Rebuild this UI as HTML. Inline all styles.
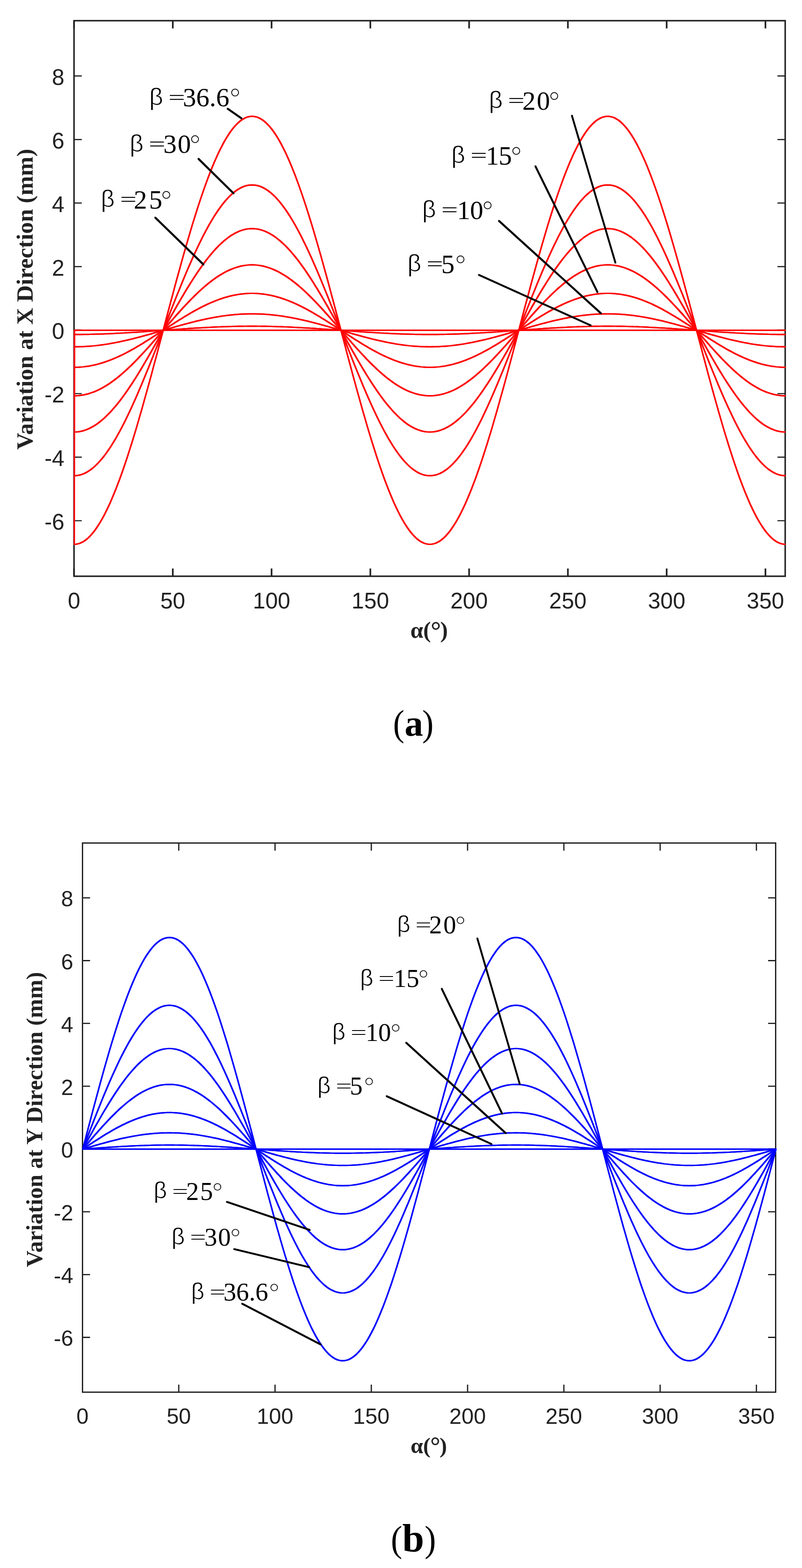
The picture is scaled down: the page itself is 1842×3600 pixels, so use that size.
<!DOCTYPE html>
<html><head><meta charset="utf-8"><title>Variation at X and Y Direction</title>
<style>html,body{margin:0;padding:0;background:#fff;}svg{display:block;}</style></head>
<body><svg width="1842" height="3600" viewBox="0 0 1842 3600">
<rect width="1842" height="3600" fill="#fff"/>
<path d="M170 1323V1305.2M170 47.5V65.3M396.86 1323V1305.2M396.86 47.5V65.3M623.72 1323V1305.2M623.72 47.5V65.3M850.58 1323V1305.2M850.58 47.5V65.3M1077.44 1323V1305.2M1077.44 47.5V65.3M1304.31 1323V1305.2M1304.31 47.5V65.3M1531.17 1323V1305.2M1531.17 47.5V65.3M1758.03 1323V1305.2M1758.03 47.5V65.3" stroke="#222" stroke-width="3.8" fill="none"/>
<path d="M170 1195.48H187.8M1803.4 1195.48H1785.6M170 1049.62H187.8M1803.4 1049.62H1785.6M170 903.76H187.8M1803.4 903.76H1785.6M170 757.9H187.8M1803.4 757.9H1785.6M170 612.04H187.8M1803.4 612.04H1785.6M170 466.18H187.8M1803.4 466.18H1785.6M170 320.32H187.8M1803.4 320.32H1785.6M170 174.46H187.8M1803.4 174.46H1785.6" stroke="#222" stroke-width="2.7" fill="none"/>
<rect x="170" y="47.5" width="1633.4" height="1275.5" fill="none" stroke="#222" stroke-width="3.5"/>
<g id="cx" stroke="#ff0000" stroke-width="1.2" fill="none" stroke-linejoin="round"><path d="M170.6 758.4L170.6 1249.7L175.1 1249.4L179.7 1248.5L184.2 1247.0L188.7 1244.9L193.3 1242.3L197.8 1239.0L202.4 1235.1L206.9 1230.7L211.4 1225.7L216.0 1220.1L220.5 1213.9L225.0 1207.2L229.6 1200.0L234.1 1192.2L238.7 1183.9L243.2 1175.1L247.7 1165.7L252.3 1155.9L256.8 1145.6L261.3 1134.8L265.9 1123.5L270.4 1111.8L275.0 1099.7L279.5 1087.2L284.0 1074.2L288.6 1060.9L293.1 1047.2L297.6 1033.1L302.2 1018.8L306.7 1004.1L311.3 989.1L315.8 973.8L320.3 958.2L324.9 942.5L329.4 926.4L333.9 910.2L338.5 893.8L343.0 877.3L347.6 860.6L352.1 843.7L356.6 826.8L361.2 809.8L365.7 792.7L370.2 775.5L374.8 758.4L379.3 741.3L383.8 724.1L388.4 707.0L392.9 690.0L397.5 673.1L402.0 656.2L406.5 639.5L411.1 623.0L415.6 606.6L420.1 590.4L424.7 574.3L429.2 558.6L433.8 543.0L438.3 527.7L442.8 512.7L447.4 498.0L451.9 483.7L456.4 469.6L461.0 455.9L465.5 442.6L470.1 429.6L474.6 417.1L479.1 405.0L483.7 393.3L488.2 382.0L492.7 371.2L497.3 360.9L501.8 351.1L506.4 341.7L510.9 332.9L515.4 324.6L520.0 316.8L524.5 309.6L529.0 302.9L533.6 296.7L538.1 291.1L542.7 286.1L547.2 281.7L551.7 277.8L556.3 274.5L560.8 271.9L565.3 269.8L569.9 268.3L574.4 267.4L579.0 267.1L583.5 267.4L588.0 268.3L592.6 269.8L597.1 271.9L601.6 274.5L606.2 277.8L610.7 281.7L615.2 286.1L619.8 291.1L624.3 296.7L628.9 302.9L633.4 309.6L637.9 316.8L642.5 324.6L647.0 332.9L651.5 341.7L656.1 351.1L660.6 360.9L665.2 371.2L669.7 382.0L674.2 393.3L678.8 405.0L683.3 417.1L687.8 429.6L692.4 442.6L696.9 455.9L701.5 469.6L706.0 483.7L710.5 498.0L715.1 512.7L719.6 527.7L724.1 543.0L728.7 558.6L733.2 574.3L737.8 590.4L742.3 606.6L746.8 623.0L751.4 639.5L755.9 656.2L760.4 673.1L765.0 690.0L769.5 707.0L774.1 724.1L778.6 741.3L783.1 758.4L787.7 775.5L792.2 792.7L796.7 809.8L801.3 826.8L805.8 843.7L810.3 860.6L814.9 877.3L819.4 893.8L824.0 910.2L828.5 926.4L833.0 942.5L837.6 958.2L842.1 973.8L846.6 989.1L851.2 1004.1L855.7 1018.8L860.3 1033.1L864.8 1047.2L869.3 1060.9L873.9 1074.2L878.4 1087.2L882.9 1099.7L887.5 1111.8L892.0 1123.5L896.6 1134.8L901.1 1145.6L905.6 1155.9L910.2 1165.7L914.7 1175.1L919.2 1183.9L923.8 1192.2L928.3 1200.0L932.9 1207.2L937.4 1213.9L941.9 1220.1L946.5 1225.7L951.0 1230.7L955.5 1235.1L960.1 1239.0L964.6 1242.3L969.2 1244.9L973.7 1247.0L978.2 1248.5L982.8 1249.4L987.3 1249.7L991.8 1249.4L996.4 1248.5L1000.9 1247.0L1005.4 1244.9L1010.0 1242.3L1014.5 1239.0L1019.1 1235.1L1023.6 1230.7L1028.1 1225.7L1032.7 1220.1L1037.2 1213.9L1041.7 1207.2L1046.3 1200.0L1050.8 1192.2L1055.4 1183.9L1059.9 1175.1L1064.4 1165.7L1069.0 1155.9L1073.5 1145.6L1078.0 1134.8L1082.6 1123.5L1087.1 1111.8L1091.7 1099.7L1096.2 1087.2L1100.7 1074.2L1105.3 1060.9L1109.8 1047.2L1114.3 1033.1L1118.9 1018.8L1123.4 1004.1L1128.0 989.1L1132.5 973.8L1137.0 958.2L1141.6 942.5L1146.1 926.4L1150.6 910.2L1155.2 893.8L1159.7 877.3L1164.3 860.6L1168.8 843.7L1173.3 826.8L1177.9 809.8L1182.4 792.7L1186.9 775.5L1191.5 758.4L1196.0 741.3L1200.5 724.1L1205.1 707.0L1209.6 690.0L1214.2 673.1L1218.7 656.2L1223.2 639.5L1227.8 623.0L1232.3 606.6L1236.8 590.4L1241.4 574.3L1245.9 558.6L1250.5 543.0L1255.0 527.7L1259.5 512.7L1264.1 498.0L1268.6 483.7L1273.1 469.6L1277.7 455.9L1282.2 442.6L1286.8 429.6L1291.3 417.1L1295.8 405.0L1300.4 393.3L1304.9 382.0L1309.4 371.2L1314.0 360.9L1318.5 351.1L1323.1 341.7L1327.6 332.9L1332.1 324.6L1336.7 316.8L1341.2 309.6L1345.7 302.9L1350.3 296.7L1354.8 291.1L1359.4 286.1L1363.9 281.7L1368.4 277.8L1373.0 274.5L1377.5 271.9L1382.0 269.8L1386.6 268.3L1391.1 267.4L1395.6 267.1L1400.2 267.4L1404.7 268.3L1409.3 269.8L1413.8 271.9L1418.3 274.5L1422.9 277.8L1427.4 281.7L1431.9 286.1L1436.5 291.1L1441.0 296.7L1445.6 302.9L1450.1 309.6L1454.6 316.8L1459.2 324.6L1463.7 332.9L1468.2 341.7L1472.8 351.1L1477.3 360.9L1481.9 371.2L1486.4 382.0L1490.9 393.3L1495.5 405.0L1500.0 417.1L1504.5 429.6L1509.1 442.6L1513.6 455.9L1518.2 469.6L1522.7 483.7L1527.2 498.0L1531.8 512.7L1536.3 527.7L1540.8 543.0L1545.4 558.6L1549.9 574.3L1554.5 590.4L1559.0 606.6L1563.5 623.0L1568.1 639.5L1572.6 656.2L1577.1 673.1L1581.7 690.0L1586.2 707.0L1590.8 724.1L1595.3 741.3L1599.8 758.4L1604.4 775.5L1608.9 792.7L1613.4 809.8L1618.0 826.8L1622.5 843.7L1627.0 860.6L1631.6 877.3L1636.1 893.8L1640.7 910.2L1645.2 926.4L1649.7 942.5L1654.3 958.2L1658.8 973.8L1663.3 989.1L1667.9 1004.1L1672.4 1018.8L1677.0 1033.1L1681.5 1047.2L1686.0 1060.9L1690.6 1074.2L1695.1 1087.2L1699.6 1099.7L1704.2 1111.8L1708.7 1123.5L1713.3 1134.8L1717.8 1145.6L1722.3 1155.9L1726.9 1165.7L1731.4 1175.1L1735.9 1183.9L1740.5 1192.2L1745.0 1200.0L1749.6 1207.2L1754.1 1213.9L1758.6 1220.1L1763.2 1225.7L1767.7 1230.7L1772.2 1235.1L1776.8 1239.0L1781.3 1242.3L1785.9 1244.9L1790.4 1247.0L1794.9 1248.5L1799.5 1249.4L1804.0 1249.7"/><path d="M170.6 758.4L170.6 1092.2L175.1 1092.0L179.7 1091.4L184.2 1090.4L188.7 1089.0L193.3 1087.2L197.8 1084.9L202.4 1082.3L206.9 1079.3L211.4 1075.9L216.0 1072.1L220.5 1067.9L225.0 1063.4L229.6 1058.4L234.1 1053.2L238.7 1047.5L243.2 1041.5L247.7 1035.2L252.3 1028.5L256.8 1021.5L261.3 1014.1L265.9 1006.5L270.4 998.5L275.0 990.3L279.5 981.8L284.0 973.0L288.6 963.9L293.1 954.6L297.6 945.1L302.2 935.3L306.7 925.3L311.3 915.1L315.8 904.7L320.3 894.2L324.9 883.5L329.4 872.6L333.9 861.6L338.5 850.4L343.0 839.2L347.6 827.8L352.1 816.4L356.6 804.9L361.2 793.3L365.7 781.7L370.2 770.1L374.8 758.4L379.3 746.7L383.8 735.1L388.4 723.5L392.9 711.9L397.5 700.4L402.0 689.0L406.5 677.6L411.1 666.4L415.6 655.2L420.1 644.2L424.7 633.3L429.2 622.6L433.8 612.1L438.3 601.7L442.8 591.5L447.4 581.5L451.9 571.7L456.4 562.2L461.0 552.9L465.5 543.8L470.1 535.0L474.6 526.5L479.1 518.3L483.7 510.3L488.2 502.7L492.7 495.3L497.3 488.3L501.8 481.6L506.4 475.3L510.9 469.3L515.4 463.6L520.0 458.4L524.5 453.4L529.0 448.9L533.6 444.7L538.1 440.9L542.7 437.5L547.2 434.5L551.7 431.9L556.3 429.6L560.8 427.8L565.3 426.4L569.9 425.4L574.4 424.8L579.0 424.6L583.5 424.8L588.0 425.4L592.6 426.4L597.1 427.8L601.6 429.6L606.2 431.9L610.7 434.5L615.2 437.5L619.8 440.9L624.3 444.7L628.9 448.9L633.4 453.4L637.9 458.4L642.5 463.6L647.0 469.3L651.5 475.3L656.1 481.6L660.6 488.3L665.2 495.3L669.7 502.7L674.2 510.3L678.8 518.3L683.3 526.5L687.8 535.0L692.4 543.8L696.9 552.9L701.5 562.2L706.0 571.7L710.5 581.5L715.1 591.5L719.6 601.7L724.1 612.1L728.7 622.6L733.2 633.3L737.8 644.2L742.3 655.2L746.8 666.4L751.4 677.6L755.9 689.0L760.4 700.4L765.0 711.9L769.5 723.5L774.1 735.1L778.6 746.7L783.1 758.4L787.7 770.1L792.2 781.7L796.7 793.3L801.3 804.9L805.8 816.4L810.3 827.8L814.9 839.2L819.4 850.4L824.0 861.6L828.5 872.6L833.0 883.5L837.6 894.2L842.1 904.7L846.6 915.1L851.2 925.3L855.7 935.3L860.3 945.1L864.8 954.6L869.3 963.9L873.9 973.0L878.4 981.8L882.9 990.3L887.5 998.5L892.0 1006.5L896.6 1014.1L901.1 1021.5L905.6 1028.5L910.2 1035.2L914.7 1041.5L919.2 1047.5L923.8 1053.2L928.3 1058.4L932.9 1063.4L937.4 1067.9L941.9 1072.1L946.5 1075.9L951.0 1079.3L955.5 1082.3L960.1 1084.9L964.6 1087.2L969.2 1089.0L973.7 1090.4L978.2 1091.4L982.8 1092.0L987.3 1092.2L991.8 1092.0L996.4 1091.4L1000.9 1090.4L1005.4 1089.0L1010.0 1087.2L1014.5 1084.9L1019.1 1082.3L1023.6 1079.3L1028.1 1075.9L1032.7 1072.1L1037.2 1067.9L1041.7 1063.4L1046.3 1058.4L1050.8 1053.2L1055.4 1047.5L1059.9 1041.5L1064.4 1035.2L1069.0 1028.5L1073.5 1021.5L1078.0 1014.1L1082.6 1006.5L1087.1 998.5L1091.7 990.3L1096.2 981.8L1100.7 973.0L1105.3 963.9L1109.8 954.6L1114.3 945.1L1118.9 935.3L1123.4 925.3L1128.0 915.1L1132.5 904.7L1137.0 894.2L1141.6 883.5L1146.1 872.6L1150.6 861.6L1155.2 850.4L1159.7 839.2L1164.3 827.8L1168.8 816.4L1173.3 804.9L1177.9 793.3L1182.4 781.7L1186.9 770.1L1191.5 758.4L1196.0 746.7L1200.5 735.1L1205.1 723.5L1209.6 711.9L1214.2 700.4L1218.7 689.0L1223.2 677.6L1227.8 666.4L1232.3 655.2L1236.8 644.2L1241.4 633.3L1245.9 622.6L1250.5 612.1L1255.0 601.7L1259.5 591.5L1264.1 581.5L1268.6 571.7L1273.1 562.2L1277.7 552.9L1282.2 543.8L1286.8 535.0L1291.3 526.5L1295.8 518.3L1300.4 510.3L1304.9 502.7L1309.4 495.3L1314.0 488.3L1318.5 481.6L1323.1 475.3L1327.6 469.3L1332.1 463.6L1336.7 458.4L1341.2 453.4L1345.7 448.9L1350.3 444.7L1354.8 440.9L1359.4 437.5L1363.9 434.5L1368.4 431.9L1373.0 429.6L1377.5 427.8L1382.0 426.4L1386.6 425.4L1391.1 424.8L1395.6 424.6L1400.2 424.8L1404.7 425.4L1409.3 426.4L1413.8 427.8L1418.3 429.6L1422.9 431.9L1427.4 434.5L1431.9 437.5L1436.5 440.9L1441.0 444.7L1445.6 448.9L1450.1 453.4L1454.6 458.4L1459.2 463.6L1463.7 469.3L1468.2 475.3L1472.8 481.6L1477.3 488.3L1481.9 495.3L1486.4 502.7L1490.9 510.3L1495.5 518.3L1500.0 526.5L1504.5 535.0L1509.1 543.8L1513.6 552.9L1518.2 562.2L1522.7 571.7L1527.2 581.5L1531.8 591.5L1536.3 601.7L1540.8 612.1L1545.4 622.6L1549.9 633.3L1554.5 644.2L1559.0 655.2L1563.5 666.4L1568.1 677.6L1572.6 689.0L1577.1 700.4L1581.7 711.9L1586.2 723.5L1590.8 735.1L1595.3 746.7L1599.8 758.4L1604.4 770.1L1608.9 781.7L1613.4 793.3L1618.0 804.9L1622.5 816.4L1627.0 827.8L1631.6 839.2L1636.1 850.4L1640.7 861.6L1645.2 872.6L1649.7 883.5L1654.3 894.2L1658.8 904.7L1663.3 915.1L1667.9 925.3L1672.4 935.3L1677.0 945.1L1681.5 954.6L1686.0 963.9L1690.6 973.0L1695.1 981.8L1699.6 990.3L1704.2 998.5L1708.7 1006.5L1713.3 1014.1L1717.8 1021.5L1722.3 1028.5L1726.9 1035.2L1731.4 1041.5L1735.9 1047.5L1740.5 1053.2L1745.0 1058.4L1749.6 1063.4L1754.1 1067.9L1758.6 1072.1L1763.2 1075.9L1767.7 1079.3L1772.2 1082.3L1776.8 1084.9L1781.3 1087.2L1785.9 1089.0L1790.4 1090.4L1794.9 1091.4L1799.5 1092.0L1804.0 1092.2"/><path d="M170.6 758.4L170.6 991.9L175.1 991.7L179.7 991.3L184.2 990.6L188.7 989.6L193.3 988.3L197.8 986.8L202.4 984.9L206.9 982.8L211.4 980.4L216.0 977.8L220.5 974.9L225.0 971.7L229.6 968.2L234.1 964.5L238.7 960.6L243.2 956.4L247.7 951.9L252.3 947.3L256.8 942.4L261.3 937.2L265.9 931.9L270.4 926.3L275.0 920.6L279.5 914.6L284.0 908.5L288.6 902.1L293.1 895.6L297.6 888.9L302.2 882.1L306.7 875.1L311.3 868.0L315.8 860.7L320.3 853.4L324.9 845.9L329.4 838.2L333.9 830.5L338.5 822.7L343.0 814.9L347.6 806.9L352.1 798.9L356.6 790.9L361.2 782.8L365.7 774.7L370.2 766.5L374.8 758.4L379.3 750.3L383.8 742.1L388.4 734.0L392.9 725.9L397.5 717.9L402.0 709.9L406.5 701.9L411.1 694.1L415.6 686.3L420.1 678.6L424.7 670.9L429.2 663.4L433.8 656.1L438.3 648.8L442.8 641.7L447.4 634.7L451.9 627.9L456.4 621.2L461.0 614.7L465.5 608.3L470.1 602.2L474.6 596.2L479.1 590.5L483.7 584.9L488.2 579.6L492.7 574.4L497.3 569.5L501.8 564.9L506.4 560.4L510.9 556.2L515.4 552.3L520.0 548.6L524.5 545.1L529.0 541.9L533.6 539.0L538.1 536.4L542.7 534.0L547.2 531.9L551.7 530.0L556.3 528.5L560.8 527.2L565.3 526.2L569.9 525.5L574.4 525.1L579.0 524.9L583.5 525.1L588.0 525.5L592.6 526.2L597.1 527.2L601.6 528.5L606.2 530.0L610.7 531.9L615.2 534.0L619.8 536.4L624.3 539.0L628.9 541.9L633.4 545.1L637.9 548.6L642.5 552.3L647.0 556.2L651.5 560.4L656.1 564.9L660.6 569.5L665.2 574.4L669.7 579.6L674.2 584.9L678.8 590.5L683.3 596.2L687.8 602.2L692.4 608.3L696.9 614.7L701.5 621.2L706.0 627.9L710.5 634.7L715.1 641.7L719.6 648.8L724.1 656.1L728.7 663.4L733.2 670.9L737.8 678.6L742.3 686.3L746.8 694.1L751.4 701.9L755.9 709.9L760.4 717.9L765.0 725.9L769.5 734.0L774.1 742.1L778.6 750.3L783.1 758.4L787.7 766.5L792.2 774.7L796.7 782.8L801.3 790.9L805.8 798.9L810.3 806.9L814.9 814.9L819.4 822.7L824.0 830.5L828.5 838.2L833.0 845.9L837.6 853.4L842.1 860.7L846.6 868.0L851.2 875.1L855.7 882.1L860.3 888.9L864.8 895.6L869.3 902.1L873.9 908.5L878.4 914.6L882.9 920.6L887.5 926.3L892.0 931.9L896.6 937.2L901.1 942.4L905.6 947.3L910.2 951.9L914.7 956.4L919.2 960.6L923.8 964.5L928.3 968.2L932.9 971.7L937.4 974.9L941.9 977.8L946.5 980.4L951.0 982.8L955.5 984.9L960.1 986.8L964.6 988.3L969.2 989.6L973.7 990.6L978.2 991.3L982.8 991.7L987.3 991.9L991.8 991.7L996.4 991.3L1000.9 990.6L1005.4 989.6L1010.0 988.3L1014.5 986.8L1019.1 984.9L1023.6 982.8L1028.1 980.4L1032.7 977.8L1037.2 974.9L1041.7 971.7L1046.3 968.2L1050.8 964.5L1055.4 960.6L1059.9 956.4L1064.4 951.9L1069.0 947.3L1073.5 942.4L1078.0 937.2L1082.6 931.9L1087.1 926.3L1091.7 920.6L1096.2 914.6L1100.7 908.5L1105.3 902.1L1109.8 895.6L1114.3 888.9L1118.9 882.1L1123.4 875.1L1128.0 868.0L1132.5 860.7L1137.0 853.4L1141.6 845.9L1146.1 838.2L1150.6 830.5L1155.2 822.7L1159.7 814.9L1164.3 806.9L1168.8 798.9L1173.3 790.9L1177.9 782.8L1182.4 774.7L1186.9 766.5L1191.5 758.4L1196.0 750.3L1200.5 742.1L1205.1 734.0L1209.6 725.9L1214.2 717.9L1218.7 709.9L1223.2 701.9L1227.8 694.1L1232.3 686.3L1236.8 678.6L1241.4 670.9L1245.9 663.4L1250.5 656.1L1255.0 648.8L1259.5 641.7L1264.1 634.7L1268.6 627.9L1273.1 621.2L1277.7 614.7L1282.2 608.3L1286.8 602.2L1291.3 596.2L1295.8 590.5L1300.4 584.9L1304.9 579.6L1309.4 574.4L1314.0 569.5L1318.5 564.9L1323.1 560.4L1327.6 556.2L1332.1 552.3L1336.7 548.6L1341.2 545.1L1345.7 541.9L1350.3 539.0L1354.8 536.4L1359.4 534.0L1363.9 531.9L1368.4 530.0L1373.0 528.5L1377.5 527.2L1382.0 526.2L1386.6 525.5L1391.1 525.1L1395.6 524.9L1400.2 525.1L1404.7 525.5L1409.3 526.2L1413.8 527.2L1418.3 528.5L1422.9 530.0L1427.4 531.9L1431.9 534.0L1436.5 536.4L1441.0 539.0L1445.6 541.9L1450.1 545.1L1454.6 548.6L1459.2 552.3L1463.7 556.2L1468.2 560.4L1472.8 564.9L1477.3 569.5L1481.9 574.4L1486.4 579.6L1490.9 584.9L1495.5 590.5L1500.0 596.2L1504.5 602.2L1509.1 608.3L1513.6 614.7L1518.2 621.2L1522.7 627.9L1527.2 634.7L1531.8 641.7L1536.3 648.8L1540.8 656.1L1545.4 663.4L1549.9 670.9L1554.5 678.6L1559.0 686.3L1563.5 694.1L1568.1 701.9L1572.6 709.9L1577.1 717.9L1581.7 725.9L1586.2 734.0L1590.8 742.1L1595.3 750.3L1599.8 758.4L1604.4 766.5L1608.9 774.7L1613.4 782.8L1618.0 790.9L1622.5 798.9L1627.0 806.9L1631.6 814.9L1636.1 822.7L1640.7 830.5L1645.2 838.2L1649.7 845.9L1654.3 853.4L1658.8 860.7L1663.3 868.0L1667.9 875.1L1672.4 882.1L1677.0 888.9L1681.5 895.6L1686.0 902.1L1690.6 908.5L1695.1 914.6L1699.6 920.6L1704.2 926.3L1708.7 931.9L1713.3 937.2L1717.8 942.4L1722.3 947.3L1726.9 951.9L1731.4 956.4L1735.9 960.6L1740.5 964.5L1745.0 968.2L1749.6 971.7L1754.1 974.9L1758.6 977.8L1763.2 980.4L1767.7 982.8L1772.2 984.9L1776.8 986.8L1781.3 988.3L1785.9 989.6L1790.4 990.6L1794.9 991.3L1799.5 991.7L1804.0 991.9"/><path d="M170.6 758.4L170.6 908.7L175.1 908.6L179.7 908.3L184.2 907.8L188.7 907.2L193.3 906.4L197.8 905.4L202.4 904.2L206.9 902.8L211.4 901.3L216.0 899.6L220.5 897.7L225.0 895.7L229.6 893.5L234.1 891.1L238.7 888.5L243.2 885.8L247.7 883.0L252.3 880.0L256.8 876.8L261.3 873.5L265.9 870.1L270.4 866.5L275.0 862.8L279.5 858.9L284.0 855.0L288.6 850.9L293.1 846.7L297.6 842.4L302.2 838.0L306.7 833.5L311.3 828.9L315.8 824.3L320.3 819.5L324.9 814.7L329.4 809.8L333.9 804.8L338.5 799.8L343.0 794.8L347.6 789.6L352.1 784.5L356.6 779.3L361.2 774.1L365.7 768.9L370.2 763.6L374.8 758.4L379.3 753.2L383.8 747.9L388.4 742.7L392.9 737.5L397.5 732.3L402.0 727.2L406.5 722.0L411.1 717.0L415.6 712.0L420.1 707.0L424.7 702.1L429.2 697.3L433.8 692.5L438.3 687.9L442.8 683.3L447.4 678.8L451.9 674.4L456.4 670.1L461.0 665.9L465.5 661.8L470.1 657.9L474.6 654.0L479.1 650.3L483.7 646.7L488.2 643.3L492.7 640.0L497.3 636.8L501.8 633.8L506.4 631.0L510.9 628.3L515.4 625.7L520.0 623.3L524.5 621.1L529.0 619.1L533.6 617.2L538.1 615.5L542.7 614.0L547.2 612.6L551.7 611.4L556.3 610.4L560.8 609.6L565.3 609.0L569.9 608.5L574.4 608.2L579.0 608.1L583.5 608.2L588.0 608.5L592.6 609.0L597.1 609.6L601.6 610.4L606.2 611.4L610.7 612.6L615.2 614.0L619.8 615.5L624.3 617.2L628.9 619.1L633.4 621.1L637.9 623.3L642.5 625.7L647.0 628.3L651.5 631.0L656.1 633.8L660.6 636.8L665.2 640.0L669.7 643.3L674.2 646.7L678.8 650.3L683.3 654.0L687.8 657.9L692.4 661.8L696.9 665.9L701.5 670.1L706.0 674.4L710.5 678.8L715.1 683.3L719.6 687.9L724.1 692.5L728.7 697.3L733.2 702.1L737.8 707.0L742.3 712.0L746.8 717.0L751.4 722.0L755.9 727.2L760.4 732.3L765.0 737.5L769.5 742.7L774.1 747.9L778.6 753.2L783.1 758.4L787.7 763.6L792.2 768.9L796.7 774.1L801.3 779.3L805.8 784.5L810.3 789.6L814.9 794.8L819.4 799.8L824.0 804.8L828.5 809.8L833.0 814.7L837.6 819.5L842.1 824.3L846.6 828.9L851.2 833.5L855.7 838.0L860.3 842.4L864.8 846.7L869.3 850.9L873.9 855.0L878.4 858.9L882.9 862.8L887.5 866.5L892.0 870.1L896.6 873.5L901.1 876.8L905.6 880.0L910.2 883.0L914.7 885.8L919.2 888.5L923.8 891.1L928.3 893.5L932.9 895.7L937.4 897.7L941.9 899.6L946.5 901.3L951.0 902.8L955.5 904.2L960.1 905.4L964.6 906.4L969.2 907.2L973.7 907.8L978.2 908.3L982.8 908.6L987.3 908.7L991.8 908.6L996.4 908.3L1000.9 907.8L1005.4 907.2L1010.0 906.4L1014.5 905.4L1019.1 904.2L1023.6 902.8L1028.1 901.3L1032.7 899.6L1037.2 897.7L1041.7 895.7L1046.3 893.5L1050.8 891.1L1055.4 888.5L1059.9 885.8L1064.4 883.0L1069.0 880.0L1073.5 876.8L1078.0 873.5L1082.6 870.1L1087.1 866.5L1091.7 862.8L1096.2 858.9L1100.7 855.0L1105.3 850.9L1109.8 846.7L1114.3 842.4L1118.9 838.0L1123.4 833.5L1128.0 828.9L1132.5 824.3L1137.0 819.5L1141.6 814.7L1146.1 809.8L1150.6 804.8L1155.2 799.8L1159.7 794.8L1164.3 789.6L1168.8 784.5L1173.3 779.3L1177.9 774.1L1182.4 768.9L1186.9 763.6L1191.5 758.4L1196.0 753.2L1200.5 747.9L1205.1 742.7L1209.6 737.5L1214.2 732.3L1218.7 727.2L1223.2 722.0L1227.8 717.0L1232.3 712.0L1236.8 707.0L1241.4 702.1L1245.9 697.3L1250.5 692.5L1255.0 687.9L1259.5 683.3L1264.1 678.8L1268.6 674.4L1273.1 670.1L1277.7 665.9L1282.2 661.8L1286.8 657.9L1291.3 654.0L1295.8 650.3L1300.4 646.7L1304.9 643.3L1309.4 640.0L1314.0 636.8L1318.5 633.8L1323.1 631.0L1327.6 628.3L1332.1 625.7L1336.7 623.3L1341.2 621.1L1345.7 619.1L1350.3 617.2L1354.8 615.5L1359.4 614.0L1363.9 612.6L1368.4 611.4L1373.0 610.4L1377.5 609.6L1382.0 609.0L1386.6 608.5L1391.1 608.2L1395.6 608.1L1400.2 608.2L1404.7 608.5L1409.3 609.0L1413.8 609.6L1418.3 610.4L1422.9 611.4L1427.4 612.6L1431.9 614.0L1436.5 615.5L1441.0 617.2L1445.6 619.1L1450.1 621.1L1454.6 623.3L1459.2 625.7L1463.7 628.3L1468.2 631.0L1472.8 633.8L1477.3 636.8L1481.9 640.0L1486.4 643.3L1490.9 646.7L1495.5 650.3L1500.0 654.0L1504.5 657.9L1509.1 661.8L1513.6 665.9L1518.2 670.1L1522.7 674.4L1527.2 678.8L1531.8 683.3L1536.3 687.9L1540.8 692.5L1545.4 697.3L1549.9 702.1L1554.5 707.0L1559.0 712.0L1563.5 717.0L1568.1 722.0L1572.6 727.2L1577.1 732.3L1581.7 737.5L1586.2 742.7L1590.8 747.9L1595.3 753.2L1599.8 758.4L1604.4 763.6L1608.9 768.9L1613.4 774.1L1618.0 779.3L1622.5 784.5L1627.0 789.6L1631.6 794.8L1636.1 799.8L1640.7 804.8L1645.2 809.8L1649.7 814.7L1654.3 819.5L1658.8 824.3L1663.3 828.9L1667.9 833.5L1672.4 838.0L1677.0 842.4L1681.5 846.7L1686.0 850.9L1690.6 855.0L1695.1 858.9L1699.6 862.8L1704.2 866.5L1708.7 870.1L1713.3 873.5L1717.8 876.8L1722.3 880.0L1726.9 883.0L1731.4 885.8L1735.9 888.5L1740.5 891.1L1745.0 893.5L1749.6 895.7L1754.1 897.7L1758.6 899.6L1763.2 901.3L1767.7 902.8L1772.2 904.2L1776.8 905.4L1781.3 906.4L1785.9 907.2L1790.4 907.8L1794.9 908.3L1799.5 908.6L1804.0 908.7"/><path d="M170.6 758.4L170.6 843.3L175.1 843.3L179.7 843.1L184.2 842.8L188.7 842.5L193.3 842.0L197.8 841.4L202.4 840.8L206.9 840.0L211.4 839.1L216.0 838.2L220.5 837.1L225.0 836.0L229.6 834.7L234.1 833.4L238.7 831.9L243.2 830.4L247.7 828.8L252.3 827.1L256.8 825.3L261.3 823.4L265.9 821.5L270.4 819.5L275.0 817.4L279.5 815.2L284.0 813.0L288.6 810.7L293.1 808.3L297.6 805.9L302.2 803.4L306.7 800.9L311.3 798.3L315.8 795.6L320.3 792.9L324.9 790.2L329.4 787.4L333.9 784.6L338.5 781.8L343.0 778.9L347.6 776.1L352.1 773.1L356.6 770.2L361.2 767.3L365.7 764.3L370.2 761.4L374.8 758.4L379.3 755.4L383.8 752.5L388.4 749.5L392.9 746.6L397.5 743.7L402.0 740.7L406.5 737.9L411.1 735.0L415.6 732.2L420.1 729.4L424.7 726.6L429.2 723.9L433.8 721.2L438.3 718.5L442.8 715.9L447.4 713.4L451.9 710.9L456.4 708.5L461.0 706.1L465.5 703.8L470.1 701.6L474.6 699.4L479.1 697.3L483.7 695.3L488.2 693.4L492.7 691.5L497.3 689.7L501.8 688.0L506.4 686.4L510.9 684.9L515.4 683.4L520.0 682.1L524.5 680.8L529.0 679.7L533.6 678.6L538.1 677.7L542.7 676.8L547.2 676.0L551.7 675.4L556.3 674.8L560.8 674.3L565.3 674.0L569.9 673.7L574.4 673.5L579.0 673.5L583.5 673.5L588.0 673.7L592.6 674.0L597.1 674.3L601.6 674.8L606.2 675.4L610.7 676.0L615.2 676.8L619.8 677.7L624.3 678.6L628.9 679.7L633.4 680.8L637.9 682.1L642.5 683.4L647.0 684.9L651.5 686.4L656.1 688.0L660.6 689.7L665.2 691.5L669.7 693.4L674.2 695.3L678.8 697.3L683.3 699.4L687.8 701.6L692.4 703.8L696.9 706.1L701.5 708.5L706.0 710.9L710.5 713.4L715.1 715.9L719.6 718.5L724.1 721.2L728.7 723.9L733.2 726.6L737.8 729.4L742.3 732.2L746.8 735.0L751.4 737.9L755.9 740.7L760.4 743.7L765.0 746.6L769.5 749.5L774.1 752.5L778.6 755.4L783.1 758.4L787.7 761.4L792.2 764.3L796.7 767.3L801.3 770.2L805.8 773.1L810.3 776.1L814.9 778.9L819.4 781.8L824.0 784.6L828.5 787.4L833.0 790.2L837.6 792.9L842.1 795.6L846.6 798.3L851.2 800.9L855.7 803.4L860.3 805.9L864.8 808.3L869.3 810.7L873.9 813.0L878.4 815.2L882.9 817.4L887.5 819.5L892.0 821.5L896.6 823.4L901.1 825.3L905.6 827.1L910.2 828.8L914.7 830.4L919.2 831.9L923.8 833.4L928.3 834.7L932.9 836.0L937.4 837.1L941.9 838.2L946.5 839.1L951.0 840.0L955.5 840.8L960.1 841.4L964.6 842.0L969.2 842.5L973.7 842.8L978.2 843.1L982.8 843.3L987.3 843.3L991.8 843.3L996.4 843.1L1000.9 842.8L1005.4 842.5L1010.0 842.0L1014.5 841.4L1019.1 840.8L1023.6 840.0L1028.1 839.1L1032.7 838.2L1037.2 837.1L1041.7 836.0L1046.3 834.7L1050.8 833.4L1055.4 831.9L1059.9 830.4L1064.4 828.8L1069.0 827.1L1073.5 825.3L1078.0 823.4L1082.6 821.5L1087.1 819.5L1091.7 817.4L1096.2 815.2L1100.7 813.0L1105.3 810.7L1109.8 808.3L1114.3 805.9L1118.9 803.4L1123.4 800.9L1128.0 798.3L1132.5 795.6L1137.0 792.9L1141.6 790.2L1146.1 787.4L1150.6 784.6L1155.2 781.8L1159.7 778.9L1164.3 776.1L1168.8 773.1L1173.3 770.2L1177.9 767.3L1182.4 764.3L1186.9 761.4L1191.5 758.4L1196.0 755.4L1200.5 752.5L1205.1 749.5L1209.6 746.6L1214.2 743.7L1218.7 740.7L1223.2 737.9L1227.8 735.0L1232.3 732.2L1236.8 729.4L1241.4 726.6L1245.9 723.9L1250.5 721.2L1255.0 718.5L1259.5 715.9L1264.1 713.4L1268.6 710.9L1273.1 708.5L1277.7 706.1L1282.2 703.8L1286.8 701.6L1291.3 699.4L1295.8 697.3L1300.4 695.3L1304.9 693.4L1309.4 691.5L1314.0 689.7L1318.5 688.0L1323.1 686.4L1327.6 684.9L1332.1 683.4L1336.7 682.1L1341.2 680.8L1345.7 679.7L1350.3 678.6L1354.8 677.7L1359.4 676.8L1363.9 676.0L1368.4 675.4L1373.0 674.8L1377.5 674.3L1382.0 674.0L1386.6 673.7L1391.1 673.5L1395.6 673.5L1400.2 673.5L1404.7 673.7L1409.3 674.0L1413.8 674.3L1418.3 674.8L1422.9 675.4L1427.4 676.0L1431.9 676.8L1436.5 677.7L1441.0 678.6L1445.6 679.7L1450.1 680.8L1454.6 682.1L1459.2 683.4L1463.7 684.9L1468.2 686.4L1472.8 688.0L1477.3 689.7L1481.9 691.5L1486.4 693.4L1490.9 695.3L1495.5 697.3L1500.0 699.4L1504.5 701.6L1509.1 703.8L1513.6 706.1L1518.2 708.5L1522.7 710.9L1527.2 713.4L1531.8 715.9L1536.3 718.5L1540.8 721.2L1545.4 723.9L1549.9 726.6L1554.5 729.4L1559.0 732.2L1563.5 735.0L1568.1 737.9L1572.6 740.7L1577.1 743.7L1581.7 746.6L1586.2 749.5L1590.8 752.5L1595.3 755.4L1599.8 758.4L1604.4 761.4L1608.9 764.3L1613.4 767.3L1618.0 770.2L1622.5 773.1L1627.0 776.1L1631.6 778.9L1636.1 781.8L1640.7 784.6L1645.2 787.4L1649.7 790.2L1654.3 792.9L1658.8 795.6L1663.3 798.3L1667.9 800.9L1672.4 803.4L1677.0 805.9L1681.5 808.3L1686.0 810.7L1690.6 813.0L1695.1 815.2L1699.6 817.4L1704.2 819.5L1708.7 821.5L1713.3 823.4L1717.8 825.3L1722.3 827.1L1726.9 828.8L1731.4 830.4L1735.9 831.9L1740.5 833.4L1745.0 834.7L1749.6 836.0L1754.1 837.1L1758.6 838.2L1763.2 839.1L1767.7 840.0L1772.2 840.8L1776.8 841.4L1781.3 842.0L1785.9 842.5L1790.4 842.8L1794.9 843.1L1799.5 843.3L1804.0 843.3"/><path d="M170.6 758.4L170.6 796.3L175.1 796.2L179.7 796.2L184.2 796.0L188.7 795.9L193.3 795.7L197.8 795.4L202.4 795.1L206.9 794.8L211.4 794.4L216.0 794.0L220.5 793.5L225.0 793.0L229.6 792.4L234.1 791.8L238.7 791.2L243.2 790.5L247.7 789.8L252.3 789.0L256.8 788.2L261.3 787.4L265.9 786.5L270.4 785.6L275.0 784.7L279.5 783.7L284.0 782.7L288.6 781.7L293.1 780.7L297.6 779.6L302.2 778.5L306.7 777.3L311.3 776.2L315.8 775.0L320.3 773.8L324.9 772.6L329.4 771.3L333.9 770.1L338.5 768.8L343.0 767.6L347.6 766.3L352.1 765.0L356.6 763.7L361.2 762.4L365.7 761.0L370.2 759.7L374.8 758.4L379.3 757.1L383.8 755.8L388.4 754.4L392.9 753.1L397.5 751.8L402.0 750.5L406.5 749.2L411.1 748.0L415.6 746.7L420.1 745.5L424.7 744.2L429.2 743.0L433.8 741.8L438.3 740.6L442.8 739.5L447.4 738.3L451.9 737.2L456.4 736.1L461.0 735.1L465.5 734.1L470.1 733.1L474.6 732.1L479.1 731.2L483.7 730.3L488.2 729.4L492.7 728.6L497.3 727.8L501.8 727.0L506.4 726.3L510.9 725.6L515.4 725.0L520.0 724.4L524.5 723.8L529.0 723.3L533.6 722.8L538.1 722.4L542.7 722.0L547.2 721.7L551.7 721.4L556.3 721.1L560.8 720.9L565.3 720.8L569.9 720.6L574.4 720.6L579.0 720.5L583.5 720.6L588.0 720.6L592.6 720.8L597.1 720.9L601.6 721.1L606.2 721.4L610.7 721.7L615.2 722.0L619.8 722.4L624.3 722.8L628.9 723.3L633.4 723.8L637.9 724.4L642.5 725.0L647.0 725.6L651.5 726.3L656.1 727.0L660.6 727.8L665.2 728.6L669.7 729.4L674.2 730.3L678.8 731.2L683.3 732.1L687.8 733.1L692.4 734.1L696.9 735.1L701.5 736.1L706.0 737.2L710.5 738.3L715.1 739.5L719.6 740.6L724.1 741.8L728.7 743.0L733.2 744.2L737.8 745.5L742.3 746.7L746.8 748.0L751.4 749.2L755.9 750.5L760.4 751.8L765.0 753.1L769.5 754.4L774.1 755.8L778.6 757.1L783.1 758.4L787.7 759.7L792.2 761.0L796.7 762.4L801.3 763.7L805.8 765.0L810.3 766.3L814.9 767.6L819.4 768.8L824.0 770.1L828.5 771.3L833.0 772.6L837.6 773.8L842.1 775.0L846.6 776.2L851.2 777.3L855.7 778.5L860.3 779.6L864.8 780.7L869.3 781.7L873.9 782.7L878.4 783.7L882.9 784.7L887.5 785.6L892.0 786.5L896.6 787.4L901.1 788.2L905.6 789.0L910.2 789.8L914.7 790.5L919.2 791.2L923.8 791.8L928.3 792.4L932.9 793.0L937.4 793.5L941.9 794.0L946.5 794.4L951.0 794.8L955.5 795.1L960.1 795.4L964.6 795.7L969.2 795.9L973.7 796.0L978.2 796.2L982.8 796.2L987.3 796.3L991.8 796.2L996.4 796.2L1000.9 796.0L1005.4 795.9L1010.0 795.7L1014.5 795.4L1019.1 795.1L1023.6 794.8L1028.1 794.4L1032.7 794.0L1037.2 793.5L1041.7 793.0L1046.3 792.4L1050.8 791.8L1055.4 791.2L1059.9 790.5L1064.4 789.8L1069.0 789.0L1073.5 788.2L1078.0 787.4L1082.6 786.5L1087.1 785.6L1091.7 784.7L1096.2 783.7L1100.7 782.7L1105.3 781.7L1109.8 780.7L1114.3 779.6L1118.9 778.5L1123.4 777.3L1128.0 776.2L1132.5 775.0L1137.0 773.8L1141.6 772.6L1146.1 771.3L1150.6 770.1L1155.2 768.8L1159.7 767.6L1164.3 766.3L1168.8 765.0L1173.3 763.7L1177.9 762.4L1182.4 761.0L1186.9 759.7L1191.5 758.4L1196.0 757.1L1200.5 755.8L1205.1 754.4L1209.6 753.1L1214.2 751.8L1218.7 750.5L1223.2 749.2L1227.8 748.0L1232.3 746.7L1236.8 745.5L1241.4 744.2L1245.9 743.0L1250.5 741.8L1255.0 740.6L1259.5 739.5L1264.1 738.3L1268.6 737.2L1273.1 736.1L1277.7 735.1L1282.2 734.1L1286.8 733.1L1291.3 732.1L1295.8 731.2L1300.4 730.3L1304.9 729.4L1309.4 728.6L1314.0 727.8L1318.5 727.0L1323.1 726.3L1327.6 725.6L1332.1 725.0L1336.7 724.4L1341.2 723.8L1345.7 723.3L1350.3 722.8L1354.8 722.4L1359.4 722.0L1363.9 721.7L1368.4 721.4L1373.0 721.1L1377.5 720.9L1382.0 720.8L1386.6 720.6L1391.1 720.6L1395.6 720.5L1400.2 720.6L1404.7 720.6L1409.3 720.8L1413.8 720.9L1418.3 721.1L1422.9 721.4L1427.4 721.7L1431.9 722.0L1436.5 722.4L1441.0 722.8L1445.6 723.3L1450.1 723.8L1454.6 724.4L1459.2 725.0L1463.7 725.6L1468.2 726.3L1472.8 727.0L1477.3 727.8L1481.9 728.6L1486.4 729.4L1490.9 730.3L1495.5 731.2L1500.0 732.1L1504.5 733.1L1509.1 734.1L1513.6 735.1L1518.2 736.1L1522.7 737.2L1527.2 738.3L1531.8 739.5L1536.3 740.6L1540.8 741.8L1545.4 743.0L1549.9 744.2L1554.5 745.5L1559.0 746.7L1563.5 748.0L1568.1 749.2L1572.6 750.5L1577.1 751.8L1581.7 753.1L1586.2 754.4L1590.8 755.8L1595.3 757.1L1599.8 758.4L1604.4 759.7L1608.9 761.0L1613.4 762.4L1618.0 763.7L1622.5 765.0L1627.0 766.3L1631.6 767.6L1636.1 768.8L1640.7 770.1L1645.2 771.3L1649.7 772.6L1654.3 773.8L1658.8 775.0L1663.3 776.2L1667.9 777.3L1672.4 778.5L1677.0 779.6L1681.5 780.7L1686.0 781.7L1690.6 782.7L1695.1 783.7L1699.6 784.7L1704.2 785.6L1708.7 786.5L1713.3 787.4L1717.8 788.2L1722.3 789.0L1726.9 789.8L1731.4 790.5L1735.9 791.2L1740.5 791.8L1745.0 792.4L1749.6 793.0L1754.1 793.5L1758.6 794.0L1763.2 794.4L1767.7 794.8L1772.2 795.1L1776.8 795.4L1781.3 795.7L1785.9 795.9L1790.4 796.0L1794.9 796.2L1799.5 796.2L1804.0 796.3"/><path d="M170.6 758.4L170.6 767.9L175.1 767.9L179.7 767.9L184.2 767.8L188.7 767.8L193.3 767.7L197.8 767.7L202.4 767.6L206.9 767.5L211.4 767.4L216.0 767.3L220.5 767.2L225.0 767.1L229.6 766.9L234.1 766.8L238.7 766.6L243.2 766.4L247.7 766.3L252.3 766.1L256.8 765.9L261.3 765.7L265.9 765.4L270.4 765.2L275.0 765.0L279.5 764.7L284.0 764.5L288.6 764.2L293.1 764.0L297.6 763.7L302.2 763.4L306.7 763.1L311.3 762.9L315.8 762.6L320.3 762.3L324.9 762.0L329.4 761.6L333.9 761.3L338.5 761.0L343.0 760.7L347.6 760.4L352.1 760.0L356.6 759.7L361.2 759.4L365.7 759.1L370.2 758.7L374.8 758.4L379.3 758.1L383.8 757.7L388.4 757.4L392.9 757.1L397.5 756.8L402.0 756.4L406.5 756.1L411.1 755.8L415.6 755.5L420.1 755.2L424.7 754.8L429.2 754.5L433.8 754.2L438.3 753.9L442.8 753.7L447.4 753.4L451.9 753.1L456.4 752.8L461.0 752.6L465.5 752.3L470.1 752.1L474.6 751.8L479.1 751.6L483.7 751.4L488.2 751.1L492.7 750.9L497.3 750.7L501.8 750.5L506.4 750.4L510.9 750.2L515.4 750.0L520.0 749.9L524.5 749.7L529.0 749.6L533.6 749.5L538.1 749.4L542.7 749.3L547.2 749.2L551.7 749.1L556.3 749.1L560.8 749.0L565.3 749.0L569.9 748.9L574.4 748.9L579.0 748.9L583.5 748.9L588.0 748.9L592.6 749.0L597.1 749.0L601.6 749.1L606.2 749.1L610.7 749.2L615.2 749.3L619.8 749.4L624.3 749.5L628.9 749.6L633.4 749.7L637.9 749.9L642.5 750.0L647.0 750.2L651.5 750.4L656.1 750.5L660.6 750.7L665.2 750.9L669.7 751.1L674.2 751.4L678.8 751.6L683.3 751.8L687.8 752.1L692.4 752.3L696.9 752.6L701.5 752.8L706.0 753.1L710.5 753.4L715.1 753.7L719.6 753.9L724.1 754.2L728.7 754.5L733.2 754.8L737.8 755.2L742.3 755.5L746.8 755.8L751.4 756.1L755.9 756.4L760.4 756.8L765.0 757.1L769.5 757.4L774.1 757.7L778.6 758.1L783.1 758.4L787.7 758.7L792.2 759.1L796.7 759.4L801.3 759.7L805.8 760.0L810.3 760.4L814.9 760.7L819.4 761.0L824.0 761.3L828.5 761.6L833.0 762.0L837.6 762.3L842.1 762.6L846.6 762.9L851.2 763.1L855.7 763.4L860.3 763.7L864.8 764.0L869.3 764.2L873.9 764.5L878.4 764.7L882.9 765.0L887.5 765.2L892.0 765.4L896.6 765.7L901.1 765.9L905.6 766.1L910.2 766.3L914.7 766.4L919.2 766.6L923.8 766.8L928.3 766.9L932.9 767.1L937.4 767.2L941.9 767.3L946.5 767.4L951.0 767.5L955.5 767.6L960.1 767.7L964.6 767.7L969.2 767.8L973.7 767.8L978.2 767.9L982.8 767.9L987.3 767.9L991.8 767.9L996.4 767.9L1000.9 767.8L1005.4 767.8L1010.0 767.7L1014.5 767.7L1019.1 767.6L1023.6 767.5L1028.1 767.4L1032.7 767.3L1037.2 767.2L1041.7 767.1L1046.3 766.9L1050.8 766.8L1055.4 766.6L1059.9 766.4L1064.4 766.3L1069.0 766.1L1073.5 765.9L1078.0 765.7L1082.6 765.4L1087.1 765.2L1091.7 765.0L1096.2 764.7L1100.7 764.5L1105.3 764.2L1109.8 764.0L1114.3 763.7L1118.9 763.4L1123.4 763.1L1128.0 762.9L1132.5 762.6L1137.0 762.3L1141.6 762.0L1146.1 761.6L1150.6 761.3L1155.2 761.0L1159.7 760.7L1164.3 760.4L1168.8 760.0L1173.3 759.7L1177.9 759.4L1182.4 759.1L1186.9 758.7L1191.5 758.4L1196.0 758.1L1200.5 757.7L1205.1 757.4L1209.6 757.1L1214.2 756.8L1218.7 756.4L1223.2 756.1L1227.8 755.8L1232.3 755.5L1236.8 755.2L1241.4 754.8L1245.9 754.5L1250.5 754.2L1255.0 753.9L1259.5 753.7L1264.1 753.4L1268.6 753.1L1273.1 752.8L1277.7 752.6L1282.2 752.3L1286.8 752.1L1291.3 751.8L1295.8 751.6L1300.4 751.4L1304.9 751.1L1309.4 750.9L1314.0 750.7L1318.5 750.5L1323.1 750.4L1327.6 750.2L1332.1 750.0L1336.7 749.9L1341.2 749.7L1345.7 749.6L1350.3 749.5L1354.8 749.4L1359.4 749.3L1363.9 749.2L1368.4 749.1L1373.0 749.1L1377.5 749.0L1382.0 749.0L1386.6 748.9L1391.1 748.9L1395.6 748.9L1400.2 748.9L1404.7 748.9L1409.3 749.0L1413.8 749.0L1418.3 749.1L1422.9 749.1L1427.4 749.2L1431.9 749.3L1436.5 749.4L1441.0 749.5L1445.6 749.6L1450.1 749.7L1454.6 749.9L1459.2 750.0L1463.7 750.2L1468.2 750.4L1472.8 750.5L1477.3 750.7L1481.9 750.9L1486.4 751.1L1490.9 751.4L1495.5 751.6L1500.0 751.8L1504.5 752.1L1509.1 752.3L1513.6 752.6L1518.2 752.8L1522.7 753.1L1527.2 753.4L1531.8 753.7L1536.3 753.9L1540.8 754.2L1545.4 754.5L1549.9 754.8L1554.5 755.2L1559.0 755.5L1563.5 755.8L1568.1 756.1L1572.6 756.4L1577.1 756.8L1581.7 757.1L1586.2 757.4L1590.8 757.7L1595.3 758.1L1599.8 758.4L1604.4 758.7L1608.9 759.1L1613.4 759.4L1618.0 759.7L1622.5 760.0L1627.0 760.4L1631.6 760.7L1636.1 761.0L1640.7 761.3L1645.2 761.6L1649.7 762.0L1654.3 762.3L1658.8 762.6L1663.3 762.9L1667.9 763.1L1672.4 763.4L1677.0 763.7L1681.5 764.0L1686.0 764.2L1690.6 764.5L1695.1 764.7L1699.6 765.0L1704.2 765.2L1708.7 765.4L1713.3 765.7L1717.8 765.9L1722.3 766.1L1726.9 766.3L1731.4 766.4L1735.9 766.6L1740.5 766.8L1745.0 766.9L1749.6 767.1L1754.1 767.2L1758.6 767.3L1763.2 767.4L1767.7 767.5L1772.2 767.6L1776.8 767.7L1781.3 767.7L1785.9 767.8L1790.4 767.8L1794.9 767.9L1799.5 767.9L1804.0 767.9"/><path d="M170.6 758.4L170.6 758.4L175.1 758.4L179.7 758.4L184.2 758.4L188.7 758.4L193.3 758.4L197.8 758.4L202.4 758.4L206.9 758.4L211.4 758.4L216.0 758.4L220.5 758.4L225.0 758.4L229.6 758.4L234.1 758.4L238.7 758.4L243.2 758.4L247.7 758.4L252.3 758.4L256.8 758.4L261.3 758.4L265.9 758.4L270.4 758.4L275.0 758.4L279.5 758.4L284.0 758.4L288.6 758.4L293.1 758.4L297.6 758.4L302.2 758.4L306.7 758.4L311.3 758.4L315.8 758.4L320.3 758.4L324.9 758.4L329.4 758.4L333.9 758.4L338.5 758.4L343.0 758.4L347.6 758.4L352.1 758.4L356.6 758.4L361.2 758.4L365.7 758.4L370.2 758.4L374.8 758.4L379.3 758.4L383.8 758.4L388.4 758.4L392.9 758.4L397.5 758.4L402.0 758.4L406.5 758.4L411.1 758.4L415.6 758.4L420.1 758.4L424.7 758.4L429.2 758.4L433.8 758.4L438.3 758.4L442.8 758.4L447.4 758.4L451.9 758.4L456.4 758.4L461.0 758.4L465.5 758.4L470.1 758.4L474.6 758.4L479.1 758.4L483.7 758.4L488.2 758.4L492.7 758.4L497.3 758.4L501.8 758.4L506.4 758.4L510.9 758.4L515.4 758.4L520.0 758.4L524.5 758.4L529.0 758.4L533.6 758.4L538.1 758.4L542.7 758.4L547.2 758.4L551.7 758.4L556.3 758.4L560.8 758.4L565.3 758.4L569.9 758.4L574.4 758.4L579.0 758.4L583.5 758.4L588.0 758.4L592.6 758.4L597.1 758.4L601.6 758.4L606.2 758.4L610.7 758.4L615.2 758.4L619.8 758.4L624.3 758.4L628.9 758.4L633.4 758.4L637.9 758.4L642.5 758.4L647.0 758.4L651.5 758.4L656.1 758.4L660.6 758.4L665.2 758.4L669.7 758.4L674.2 758.4L678.8 758.4L683.3 758.4L687.8 758.4L692.4 758.4L696.9 758.4L701.5 758.4L706.0 758.4L710.5 758.4L715.1 758.4L719.6 758.4L724.1 758.4L728.7 758.4L733.2 758.4L737.8 758.4L742.3 758.4L746.8 758.4L751.4 758.4L755.9 758.4L760.4 758.4L765.0 758.4L769.5 758.4L774.1 758.4L778.6 758.4L783.1 758.4L787.7 758.4L792.2 758.4L796.7 758.4L801.3 758.4L805.8 758.4L810.3 758.4L814.9 758.4L819.4 758.4L824.0 758.4L828.5 758.4L833.0 758.4L837.6 758.4L842.1 758.4L846.6 758.4L851.2 758.4L855.7 758.4L860.3 758.4L864.8 758.4L869.3 758.4L873.9 758.4L878.4 758.4L882.9 758.4L887.5 758.4L892.0 758.4L896.6 758.4L901.1 758.4L905.6 758.4L910.2 758.4L914.7 758.4L919.2 758.4L923.8 758.4L928.3 758.4L932.9 758.4L937.4 758.4L941.9 758.4L946.5 758.4L951.0 758.4L955.5 758.4L960.1 758.4L964.6 758.4L969.2 758.4L973.7 758.4L978.2 758.4L982.8 758.4L987.3 758.4L991.8 758.4L996.4 758.4L1000.9 758.4L1005.4 758.4L1010.0 758.4L1014.5 758.4L1019.1 758.4L1023.6 758.4L1028.1 758.4L1032.7 758.4L1037.2 758.4L1041.7 758.4L1046.3 758.4L1050.8 758.4L1055.4 758.4L1059.9 758.4L1064.4 758.4L1069.0 758.4L1073.5 758.4L1078.0 758.4L1082.6 758.4L1087.1 758.4L1091.7 758.4L1096.2 758.4L1100.7 758.4L1105.3 758.4L1109.8 758.4L1114.3 758.4L1118.9 758.4L1123.4 758.4L1128.0 758.4L1132.5 758.4L1137.0 758.4L1141.6 758.4L1146.1 758.4L1150.6 758.4L1155.2 758.4L1159.7 758.4L1164.3 758.4L1168.8 758.4L1173.3 758.4L1177.9 758.4L1182.4 758.4L1186.9 758.4L1191.5 758.4L1196.0 758.4L1200.5 758.4L1205.1 758.4L1209.6 758.4L1214.2 758.4L1218.7 758.4L1223.2 758.4L1227.8 758.4L1232.3 758.4L1236.8 758.4L1241.4 758.4L1245.9 758.4L1250.5 758.4L1255.0 758.4L1259.5 758.4L1264.1 758.4L1268.6 758.4L1273.1 758.4L1277.7 758.4L1282.2 758.4L1286.8 758.4L1291.3 758.4L1295.8 758.4L1300.4 758.4L1304.9 758.4L1309.4 758.4L1314.0 758.4L1318.5 758.4L1323.1 758.4L1327.6 758.4L1332.1 758.4L1336.7 758.4L1341.2 758.4L1345.7 758.4L1350.3 758.4L1354.8 758.4L1359.4 758.4L1363.9 758.4L1368.4 758.4L1373.0 758.4L1377.5 758.4L1382.0 758.4L1386.6 758.4L1391.1 758.4L1395.6 758.4L1400.2 758.4L1404.7 758.4L1409.3 758.4L1413.8 758.4L1418.3 758.4L1422.9 758.4L1427.4 758.4L1431.9 758.4L1436.5 758.4L1441.0 758.4L1445.6 758.4L1450.1 758.4L1454.6 758.4L1459.2 758.4L1463.7 758.4L1468.2 758.4L1472.8 758.4L1477.3 758.4L1481.9 758.4L1486.4 758.4L1490.9 758.4L1495.5 758.4L1500.0 758.4L1504.5 758.4L1509.1 758.4L1513.6 758.4L1518.2 758.4L1522.7 758.4L1527.2 758.4L1531.8 758.4L1536.3 758.4L1540.8 758.4L1545.4 758.4L1549.9 758.4L1554.5 758.4L1559.0 758.4L1563.5 758.4L1568.1 758.4L1572.6 758.4L1577.1 758.4L1581.7 758.4L1586.2 758.4L1590.8 758.4L1595.3 758.4L1599.8 758.4L1604.4 758.4L1608.9 758.4L1613.4 758.4L1618.0 758.4L1622.5 758.4L1627.0 758.4L1631.6 758.4L1636.1 758.4L1640.7 758.4L1645.2 758.4L1649.7 758.4L1654.3 758.4L1658.8 758.4L1663.3 758.4L1667.9 758.4L1672.4 758.4L1677.0 758.4L1681.5 758.4L1686.0 758.4L1690.6 758.4L1695.1 758.4L1699.6 758.4L1704.2 758.4L1708.7 758.4L1713.3 758.4L1717.8 758.4L1722.3 758.4L1726.9 758.4L1731.4 758.4L1735.9 758.4L1740.5 758.4L1745.0 758.4L1749.6 758.4L1754.1 758.4L1758.6 758.4L1763.2 758.4L1767.7 758.4L1772.2 758.4L1776.8 758.4L1781.3 758.4L1785.9 758.4L1790.4 758.4L1794.9 758.4L1799.5 758.4L1804.0 758.4"/></g>
<use href="#cx" x="-1" y="-1"/>
<use href="#cx" x="1" y="-1"/>
<use href="#cx" x="-1" y="1"/>
<use href="#cx" x="1" y="1"/>
<g font-family="Liberation Sans, Arial, sans-serif" font-size="51.5" fill="#222"><text x="170" y="1396.5" text-anchor="middle">0</text><text x="396.86" y="1396.5" text-anchor="middle">50</text><text x="623.72" y="1396.5" text-anchor="middle">100</text><text x="850.58" y="1396.5" text-anchor="middle">150</text><text x="1077.44" y="1396.5" text-anchor="middle">200</text><text x="1304.31" y="1396.5" text-anchor="middle">250</text><text x="1531.17" y="1396.5" text-anchor="middle">300</text><text x="1758.03" y="1396.5" text-anchor="middle">350</text><text x="148" y="1215.98" text-anchor="end">-6</text><text x="148" y="1070.12" text-anchor="end">-4</text><text x="148" y="924.26" text-anchor="end">-2</text><text x="148" y="778.4" text-anchor="end">0</text><text x="148" y="632.54" text-anchor="end">2</text><text x="148" y="486.68" text-anchor="end">4</text><text x="148" y="340.82" text-anchor="end">6</text><text x="148" y="194.96" text-anchor="end">8</text></g>
<text x="985.5" y="1464" text-anchor="middle" font-family="Liberation Serif, serif" font-weight="bold" font-size="53" fill="#222">α(<tspan font-size="60" dx="-0.8" dy="3.7">°</tspan><tspan dx="-2" dy="-3.7">)</tspan></text>
<text transform="translate(74.5 687) rotate(-90)" text-anchor="middle" font-family="Liberation Serif, serif" font-weight="bold" font-size="53.6" fill="#222">Variation at X Direction (mm)</text>
<g id="lx" stroke="#000" stroke-width="1.8"><line x1="522" y1="249" x2="555.4" y2="272.3"/><line x1="455.2" y1="364" x2="537.1" y2="444.7"/><line x1="356" y1="499" x2="468" y2="608"/><line x1="1313.3" y1="264.8" x2="1413.7" y2="604.1"/><line x1="1229.3" y1="380.8" x2="1372.7" y2="671.7"/><line x1="1145.3" y1="506.5" x2="1380.9" y2="720"/><line x1="1099" y1="630.7" x2="1357.6" y2="747.5"/></g>
<use href="#lx" x="-1" y="-1"/>
<use href="#lx" x="1" y="-1"/>
<use href="#lx" x="-1" y="1"/>
<use href="#lx" x="1" y="1"/>
<g font-family="Liberation Serif, serif" fill="#000"><text x="342.77" y="240.7" font-family="Liberation Sans, Arial, sans-serif" font-size="55.5" stroke="#fff" stroke-width="1">β </text><text transform="translate(386.7 237.7) scale(1.115 0.72)" x="0" y="0" font-size="61">=</text><text x="419.97" y="244.3" font-size="61">36.6<tspan x="527.4" font-size="62.5" dy="1" stroke="#fff" stroke-width="1.2">°</tspan></text><text x="297.67" y="347.7" font-family="Liberation Sans, Arial, sans-serif" font-size="55.5" stroke="#fff" stroke-width="1">β </text><text transform="translate(341.6 344.7) scale(1.115 0.72)" x="0" y="0" font-size="61">=</text><text x="375.17" y="351.3" font-size="61">3<tspan x="407.88">0</tspan><tspan x="435.5" font-size="62.5" dy="1" stroke="#fff" stroke-width="1.2">°</tspan></text><text x="231.57" y="475.3" font-family="Liberation Sans, Arial, sans-serif" font-size="55.5" stroke="#fff" stroke-width="1">β </text><text transform="translate(275.5 472.3) scale(1.115 0.72)" x="0" y="0" font-size="61">=</text><text x="307.32" y="478.9" font-size="61">2<tspan x="342.36">5</tspan><tspan x="369.6" font-size="62.5" dy="1" stroke="#fff" stroke-width="1.2">°</tspan></text><text x="1122.67" y="248.1" font-family="Liberation Sans, Arial, sans-serif" font-size="55.5" stroke="#fff" stroke-width="1">β </text><text transform="translate(1166.6 245.1) scale(1.115 0.72)" x="0" y="0" font-size="61">=</text><text x="1199.72" y="251.7" font-size="61">2<tspan x="1232.68">0</tspan><tspan x="1260.5" font-size="62.5" dy="1" stroke="#fff" stroke-width="1.2">°</tspan></text><text x="1036.57" y="374.4" font-family="Liberation Sans, Arial, sans-serif" font-size="55.5" stroke="#fff" stroke-width="1">β </text><text transform="translate(1080.5 371.4) scale(1.115 0.72)" x="0" y="0" font-size="61">=</text><text x="1115.83" y="378" font-size="61">1<tspan x="1145.26">5</tspan><tspan x="1173.2" font-size="62.5" dy="1" stroke="#fff" stroke-width="1.2">°</tspan></text><text x="969.57" y="499.4" font-family="Liberation Sans, Arial, sans-serif" font-size="55.5" stroke="#fff" stroke-width="1">β </text><text transform="translate(1013.5 496.4) scale(1.115 0.72)" x="0" y="0" font-size="61">=</text><text x="1049.73" y="503" font-size="61">1<tspan x="1079.48">0</tspan><tspan x="1107.5" font-size="62.5" dy="1" stroke="#fff" stroke-width="1.2">°</tspan></text><text x="935.67" y="623.2" font-family="Liberation Sans, Arial, sans-serif" font-size="55.5" stroke="#fff" stroke-width="1">β </text><text transform="translate(979.6 620.2) scale(1.115 0.72)" x="0" y="0" font-size="61">=</text><text x="1013.56" y="626.8" font-size="61">5<tspan x="1045.2" font-size="62.5" dy="1" stroke="#fff" stroke-width="1.2">°</tspan></text></g>
<g font-family="Liberation Serif, serif" font-size="85" fill="#000"><text transform="translate(902.77 1689) scale(0.92 1)">(</text><text x="929.3" y="1689" font-weight="bold" font-size="85">a</text><text transform="translate(969.8 1689) scale(0.92 1)">)</text></g>
<path d="M189.5 3196.3V3178.9M189.5 1935.5V1952.9M410.61 3196.3V3178.9M410.61 1935.5V1952.9M631.72 3196.3V3178.9M631.72 1935.5V1952.9M852.83 3196.3V3178.9M852.83 1935.5V1952.9M1073.94 3196.3V3178.9M1073.94 1935.5V1952.9M1295.06 3196.3V3178.9M1295.06 1935.5V1952.9M1516.17 3196.3V3178.9M1516.17 1935.5V1952.9M1737.28 3196.3V3178.9M1737.28 1935.5V1952.9" stroke="#222" stroke-width="2.9" fill="none"/>
<path d="M189.5 3070.48H206.9M1781.5 3070.48H1764.1M189.5 2926.32H206.9M1781.5 2926.32H1764.1M189.5 2782.16H206.9M1781.5 2782.16H1764.1M189.5 2638H206.9M1781.5 2638H1764.1M189.5 2493.84H206.9M1781.5 2493.84H1764.1M189.5 2349.68H206.9M1781.5 2349.68H1764.1M189.5 2205.52H206.9M1781.5 2205.52H1764.1M189.5 2061.36H206.9M1781.5 2061.36H1764.1" stroke="#222" stroke-width="2.8" fill="none"/>
<rect x="189.5" y="1935.5" width="1592" height="1260.8" fill="none" stroke="#222" stroke-width="3.0"/>
<g id="cy" stroke="#0000ff" stroke-width="1.2" fill="none" stroke-linejoin="round"><path d="M190.1 2638.3L194.5 2621.3L198.9 2604.4L203.4 2587.5L207.8 2570.7L212.2 2553.9L216.6 2537.3L221.1 2520.7L225.5 2504.4L229.9 2488.1L234.3 2472.1L238.7 2456.3L243.2 2440.7L247.6 2425.3L252.0 2410.2L256.4 2395.3L260.9 2380.8L265.3 2366.6L269.7 2352.7L274.1 2339.1L278.5 2325.9L283.0 2313.1L287.4 2300.7L291.8 2288.7L296.2 2277.2L300.7 2266.1L305.1 2255.4L309.5 2245.2L313.9 2235.4L318.3 2226.2L322.8 2217.5L327.2 2209.2L331.6 2201.5L336.0 2194.4L340.5 2187.8L344.9 2181.7L349.3 2176.2L353.7 2171.2L358.1 2166.8L362.6 2163.0L367.0 2159.8L371.4 2157.1L375.8 2155.0L380.3 2153.6L384.7 2152.7L389.1 2152.4L393.5 2152.7L397.9 2153.6L402.4 2155.0L406.8 2157.1L411.2 2159.8L415.6 2163.0L420.1 2166.8L424.5 2171.2L428.9 2176.2L433.3 2181.7L437.7 2187.8L442.2 2194.4L446.6 2201.5L451.0 2209.2L455.4 2217.5L459.9 2226.2L464.3 2235.4L468.7 2245.2L473.1 2255.4L477.5 2266.1L482.0 2277.2L486.4 2288.7L490.8 2300.7L495.2 2313.1L499.7 2325.9L504.1 2339.1L508.5 2352.7L512.9 2366.6L517.3 2380.8L521.8 2395.3L526.2 2410.2L530.6 2425.3L535.0 2440.7L539.5 2456.3L543.9 2472.1L548.3 2488.1L552.7 2504.4L557.1 2520.7L561.6 2537.3L566.0 2553.9L570.4 2570.7L574.8 2587.5L579.3 2604.4L583.7 2621.3L588.1 2638.3L592.5 2655.3L596.9 2672.2L601.4 2689.1L605.8 2705.9L610.2 2722.7L614.6 2739.3L619.1 2755.9L623.5 2772.2L627.9 2788.5L632.3 2804.5L636.7 2820.3L641.2 2835.9L645.6 2851.3L650.0 2866.4L654.4 2881.3L658.9 2895.8L663.3 2910.0L667.7 2923.9L672.1 2937.5L676.5 2950.7L681.0 2963.5L685.4 2975.9L689.8 2987.9L694.2 2999.4L698.7 3010.5L703.1 3021.2L707.5 3031.4L711.9 3041.2L716.3 3050.4L720.8 3059.1L725.2 3067.4L729.6 3075.1L734.0 3082.2L738.5 3088.8L742.9 3094.9L747.3 3100.4L751.7 3105.4L756.1 3109.8L760.6 3113.6L765.0 3116.8L769.4 3119.5L773.8 3121.6L778.3 3123.0L782.7 3123.9L787.1 3124.2L791.5 3123.9L795.9 3123.0L800.4 3121.6L804.8 3119.5L809.2 3116.8L813.6 3113.6L818.1 3109.8L822.5 3105.4L826.9 3100.4L831.3 3094.9L835.7 3088.8L840.2 3082.2L844.6 3075.1L849.0 3067.4L853.4 3059.1L857.9 3050.4L862.3 3041.2L866.7 3031.4L871.1 3021.2L875.5 3010.5L880.0 2999.4L884.4 2987.9L888.8 2975.9L893.2 2963.5L897.7 2950.7L902.1 2937.5L906.5 2923.9L910.9 2910.0L915.3 2895.8L919.8 2881.3L924.2 2866.4L928.6 2851.3L933.0 2835.9L937.5 2820.3L941.9 2804.5L946.3 2788.5L950.7 2772.2L955.1 2755.9L959.6 2739.3L964.0 2722.7L968.4 2705.9L972.8 2689.1L977.3 2672.2L981.7 2655.3L986.1 2638.3L990.5 2621.3L994.9 2604.4L999.4 2587.5L1003.8 2570.7L1008.2 2553.9L1012.6 2537.3L1017.1 2520.7L1021.5 2504.4L1025.9 2488.1L1030.3 2472.1L1034.7 2456.3L1039.2 2440.7L1043.6 2425.3L1048.0 2410.2L1052.4 2395.3L1056.9 2380.8L1061.3 2366.6L1065.7 2352.7L1070.1 2339.1L1074.5 2325.9L1079.0 2313.1L1083.4 2300.7L1087.8 2288.7L1092.2 2277.2L1096.7 2266.1L1101.1 2255.4L1105.5 2245.2L1109.9 2235.4L1114.3 2226.2L1118.8 2217.5L1123.2 2209.2L1127.6 2201.5L1132.0 2194.4L1136.5 2187.8L1140.9 2181.7L1145.3 2176.2L1149.7 2171.2L1154.1 2166.8L1158.6 2163.0L1163.0 2159.8L1167.4 2157.1L1171.8 2155.0L1176.3 2153.6L1180.7 2152.7L1185.1 2152.4L1189.5 2152.7L1193.9 2153.6L1198.4 2155.0L1202.8 2157.1L1207.2 2159.8L1211.6 2163.0L1216.1 2166.8L1220.5 2171.2L1224.9 2176.2L1229.3 2181.7L1233.7 2187.8L1238.2 2194.4L1242.6 2201.5L1247.0 2209.2L1251.4 2217.5L1255.9 2226.2L1260.3 2235.4L1264.7 2245.2L1269.1 2255.4L1273.5 2266.1L1278.0 2277.2L1282.4 2288.7L1286.8 2300.7L1291.2 2313.1L1295.7 2325.9L1300.1 2339.1L1304.5 2352.7L1308.9 2366.6L1313.3 2380.8L1317.8 2395.3L1322.2 2410.2L1326.6 2425.3L1331.0 2440.7L1335.5 2456.3L1339.9 2472.1L1344.3 2488.1L1348.7 2504.4L1353.1 2520.7L1357.6 2537.3L1362.0 2553.9L1366.4 2570.7L1370.8 2587.5L1375.3 2604.4L1379.7 2621.3L1384.1 2638.3L1388.5 2655.3L1392.9 2672.2L1397.4 2689.1L1401.8 2705.9L1406.2 2722.7L1410.6 2739.3L1415.1 2755.9L1419.5 2772.2L1423.9 2788.5L1428.3 2804.5L1432.7 2820.3L1437.2 2835.9L1441.6 2851.3L1446.0 2866.4L1450.4 2881.3L1454.9 2895.8L1459.3 2910.0L1463.7 2923.9L1468.1 2937.5L1472.5 2950.7L1477.0 2963.5L1481.4 2975.9L1485.8 2987.9L1490.2 2999.4L1494.7 3010.5L1499.1 3021.2L1503.5 3031.4L1507.9 3041.2L1512.3 3050.4L1516.8 3059.1L1521.2 3067.4L1525.6 3075.1L1530.0 3082.2L1534.5 3088.8L1538.9 3094.9L1543.3 3100.4L1547.7 3105.4L1552.1 3109.8L1556.6 3113.6L1561.0 3116.8L1565.4 3119.5L1569.8 3121.6L1574.3 3123.0L1578.7 3123.9L1583.1 3124.2L1587.5 3123.9L1591.9 3123.0L1596.4 3121.6L1600.8 3119.5L1605.2 3116.8L1609.6 3113.6L1614.1 3109.8L1618.5 3105.4L1622.9 3100.4L1627.3 3094.9L1631.7 3088.8L1636.2 3082.2L1640.6 3075.1L1645.0 3067.4L1649.4 3059.1L1653.9 3050.4L1658.3 3041.2L1662.7 3031.4L1667.1 3021.2L1671.5 3010.5L1676.0 2999.4L1680.4 2987.9L1684.8 2975.9L1689.2 2963.5L1693.7 2950.7L1698.1 2937.5L1702.5 2923.9L1706.9 2910.0L1711.3 2895.8L1715.8 2881.3L1720.2 2866.4L1724.6 2851.3L1729.0 2835.9L1733.5 2820.3L1737.9 2804.5L1742.3 2788.5L1746.7 2772.2L1751.1 2755.9L1755.6 2739.3L1760.0 2722.7L1764.4 2705.9L1768.8 2689.1L1773.3 2672.2L1777.7 2655.3L1782.1 2638.3"/><path d="M190.1 2638.3L194.5 2626.8L198.9 2615.3L203.4 2603.8L207.8 2592.4L212.2 2581.0L216.6 2569.7L221.1 2558.4L225.5 2547.3L229.9 2536.3L234.3 2525.4L238.7 2514.6L243.2 2504.0L247.6 2493.6L252.0 2483.3L256.4 2473.2L260.9 2463.3L265.3 2453.7L269.7 2444.2L274.1 2435.0L278.5 2426.1L283.0 2417.4L287.4 2408.9L291.8 2400.8L296.2 2392.9L300.7 2385.4L305.1 2378.1L309.5 2371.2L313.9 2364.6L318.3 2358.3L322.8 2352.4L327.2 2346.8L331.6 2341.6L336.0 2336.7L340.5 2332.2L344.9 2328.0L349.3 2324.3L353.7 2320.9L358.1 2317.9L362.6 2315.4L367.0 2313.2L371.4 2311.3L375.8 2309.9L380.3 2308.9L384.7 2308.3L389.1 2308.1L393.5 2308.3L397.9 2308.9L402.4 2309.9L406.8 2311.3L411.2 2313.2L415.6 2315.4L420.1 2317.9L424.5 2320.9L428.9 2324.3L433.3 2328.0L437.7 2332.2L442.2 2336.7L446.6 2341.6L451.0 2346.8L455.4 2352.4L459.9 2358.3L464.3 2364.6L468.7 2371.2L473.1 2378.1L477.5 2385.4L482.0 2392.9L486.4 2400.8L490.8 2408.9L495.2 2417.4L499.7 2426.1L504.1 2435.0L508.5 2444.2L512.9 2453.7L517.3 2463.3L521.8 2473.2L526.2 2483.3L530.6 2493.6L535.0 2504.0L539.5 2514.6L543.9 2525.4L548.3 2536.3L552.7 2547.3L557.1 2558.4L561.6 2569.7L566.0 2581.0L570.4 2592.4L574.8 2603.8L579.3 2615.3L583.7 2626.8L588.1 2638.3L592.5 2649.8L596.9 2661.3L601.4 2672.8L605.8 2684.2L610.2 2695.6L614.6 2706.9L619.1 2718.2L623.5 2729.3L627.9 2740.3L632.3 2751.2L636.7 2762.0L641.2 2772.6L645.6 2783.0L650.0 2793.3L654.4 2803.4L658.9 2813.3L663.3 2822.9L667.7 2832.4L672.1 2841.6L676.5 2850.5L681.0 2859.2L685.4 2867.7L689.8 2875.8L694.2 2883.7L698.7 2891.2L703.1 2898.5L707.5 2905.4L711.9 2912.0L716.3 2918.3L720.8 2924.2L725.2 2929.8L729.6 2935.0L734.0 2939.9L738.5 2944.4L742.9 2948.6L747.3 2952.3L751.7 2955.7L756.1 2958.7L760.6 2961.2L765.0 2963.4L769.4 2965.3L773.8 2966.7L778.3 2967.7L782.7 2968.3L787.1 2968.5L791.5 2968.3L795.9 2967.7L800.4 2966.7L804.8 2965.3L809.2 2963.4L813.6 2961.2L818.1 2958.7L822.5 2955.7L826.9 2952.3L831.3 2948.6L835.7 2944.4L840.2 2939.9L844.6 2935.0L849.0 2929.8L853.4 2924.2L857.9 2918.3L862.3 2912.0L866.7 2905.4L871.1 2898.5L875.5 2891.2L880.0 2883.7L884.4 2875.8L888.8 2867.7L893.2 2859.2L897.7 2850.5L902.1 2841.6L906.5 2832.4L910.9 2822.9L915.3 2813.3L919.8 2803.4L924.2 2793.3L928.6 2783.0L933.0 2772.6L937.5 2762.0L941.9 2751.2L946.3 2740.3L950.7 2729.3L955.1 2718.2L959.6 2706.9L964.0 2695.6L968.4 2684.2L972.8 2672.8L977.3 2661.3L981.7 2649.8L986.1 2638.3L990.5 2626.8L994.9 2615.3L999.4 2603.8L1003.8 2592.4L1008.2 2581.0L1012.6 2569.7L1017.1 2558.4L1021.5 2547.3L1025.9 2536.3L1030.3 2525.4L1034.7 2514.6L1039.2 2504.0L1043.6 2493.6L1048.0 2483.3L1052.4 2473.2L1056.9 2463.3L1061.3 2453.7L1065.7 2444.2L1070.1 2435.0L1074.5 2426.1L1079.0 2417.4L1083.4 2408.9L1087.8 2400.8L1092.2 2392.9L1096.7 2385.4L1101.1 2378.1L1105.5 2371.2L1109.9 2364.6L1114.3 2358.3L1118.8 2352.4L1123.2 2346.8L1127.6 2341.6L1132.0 2336.7L1136.5 2332.2L1140.9 2328.0L1145.3 2324.3L1149.7 2320.9L1154.1 2317.9L1158.6 2315.4L1163.0 2313.2L1167.4 2311.3L1171.8 2309.9L1176.3 2308.9L1180.7 2308.3L1185.1 2308.1L1189.5 2308.3L1193.9 2308.9L1198.4 2309.9L1202.8 2311.3L1207.2 2313.2L1211.6 2315.4L1216.1 2317.9L1220.5 2320.9L1224.9 2324.3L1229.3 2328.0L1233.7 2332.2L1238.2 2336.7L1242.6 2341.6L1247.0 2346.8L1251.4 2352.4L1255.9 2358.3L1260.3 2364.6L1264.7 2371.2L1269.1 2378.1L1273.5 2385.4L1278.0 2392.9L1282.4 2400.8L1286.8 2408.9L1291.2 2417.4L1295.7 2426.1L1300.1 2435.0L1304.5 2444.2L1308.9 2453.7L1313.3 2463.3L1317.8 2473.2L1322.2 2483.3L1326.6 2493.6L1331.0 2504.0L1335.5 2514.6L1339.9 2525.4L1344.3 2536.3L1348.7 2547.3L1353.1 2558.4L1357.6 2569.7L1362.0 2581.0L1366.4 2592.4L1370.8 2603.8L1375.3 2615.3L1379.7 2626.8L1384.1 2638.3L1388.5 2649.8L1392.9 2661.3L1397.4 2672.8L1401.8 2684.2L1406.2 2695.6L1410.6 2706.9L1415.1 2718.2L1419.5 2729.3L1423.9 2740.3L1428.3 2751.2L1432.7 2762.0L1437.2 2772.6L1441.6 2783.0L1446.0 2793.3L1450.4 2803.4L1454.9 2813.3L1459.3 2822.9L1463.7 2832.4L1468.1 2841.6L1472.5 2850.5L1477.0 2859.2L1481.4 2867.7L1485.8 2875.8L1490.2 2883.7L1494.7 2891.2L1499.1 2898.5L1503.5 2905.4L1507.9 2912.0L1512.3 2918.3L1516.8 2924.2L1521.2 2929.8L1525.6 2935.0L1530.0 2939.9L1534.5 2944.4L1538.9 2948.6L1543.3 2952.3L1547.7 2955.7L1552.1 2958.7L1556.6 2961.2L1561.0 2963.4L1565.4 2965.3L1569.8 2966.7L1574.3 2967.7L1578.7 2968.3L1583.1 2968.5L1587.5 2968.3L1591.9 2967.7L1596.4 2966.7L1600.8 2965.3L1605.2 2963.4L1609.6 2961.2L1614.1 2958.7L1618.5 2955.7L1622.9 2952.3L1627.3 2948.6L1631.7 2944.4L1636.2 2939.9L1640.6 2935.0L1645.0 2929.8L1649.4 2924.2L1653.9 2918.3L1658.3 2912.0L1662.7 2905.4L1667.1 2898.5L1671.5 2891.2L1676.0 2883.7L1680.4 2875.8L1684.8 2867.7L1689.2 2859.2L1693.7 2850.5L1698.1 2841.6L1702.5 2832.4L1706.9 2822.9L1711.3 2813.3L1715.8 2803.4L1720.2 2793.3L1724.6 2783.0L1729.0 2772.6L1733.5 2762.0L1737.9 2751.2L1742.3 2740.3L1746.7 2729.3L1751.1 2718.2L1755.6 2706.9L1760.0 2695.6L1764.4 2684.2L1768.8 2672.8L1773.3 2661.3L1777.7 2649.8L1782.1 2638.3"/><path d="M190.1 2638.3L194.5 2630.2L198.9 2622.2L203.4 2614.2L207.8 2606.2L212.2 2598.2L216.6 2590.3L221.1 2582.4L225.5 2574.7L229.9 2567.0L234.3 2559.3L238.7 2551.8L243.2 2544.4L247.6 2537.1L252.0 2529.9L256.4 2522.9L260.9 2515.9L265.3 2509.2L269.7 2502.6L274.1 2496.1L278.5 2489.9L283.0 2483.8L287.4 2477.9L291.8 2472.2L296.2 2466.7L300.7 2461.4L305.1 2456.4L309.5 2451.5L313.9 2446.9L318.3 2442.5L322.8 2438.3L327.2 2434.4L331.6 2430.8L336.0 2427.4L340.5 2424.2L344.9 2421.3L349.3 2418.7L353.7 2416.4L358.1 2414.3L362.6 2412.5L367.0 2410.9L371.4 2409.7L375.8 2408.7L380.3 2408.0L384.7 2407.5L389.1 2407.4L393.5 2407.5L397.9 2408.0L402.4 2408.7L406.8 2409.7L411.2 2410.9L415.6 2412.5L420.1 2414.3L424.5 2416.4L428.9 2418.7L433.3 2421.3L437.7 2424.2L442.2 2427.4L446.6 2430.8L451.0 2434.4L455.4 2438.3L459.9 2442.5L464.3 2446.9L468.7 2451.5L473.1 2456.4L477.5 2461.4L482.0 2466.7L486.4 2472.2L490.8 2477.9L495.2 2483.8L499.7 2489.9L504.1 2496.1L508.5 2502.6L512.9 2509.2L517.3 2515.9L521.8 2522.9L526.2 2529.9L530.6 2537.1L535.0 2544.4L539.5 2551.8L543.9 2559.3L548.3 2567.0L552.7 2574.7L557.1 2582.4L561.6 2590.3L566.0 2598.2L570.4 2606.2L574.8 2614.2L579.3 2622.2L583.7 2630.2L588.1 2638.3L592.5 2646.4L596.9 2654.4L601.4 2662.4L605.8 2670.4L610.2 2678.4L614.6 2686.3L619.1 2694.2L623.5 2701.9L627.9 2709.6L632.3 2717.3L636.7 2724.8L641.2 2732.2L645.6 2739.5L650.0 2746.7L654.4 2753.7L658.9 2760.7L663.3 2767.4L667.7 2774.0L672.1 2780.5L676.5 2786.7L681.0 2792.8L685.4 2798.7L689.8 2804.4L694.2 2809.9L698.7 2815.2L703.1 2820.2L707.5 2825.1L711.9 2829.7L716.3 2834.1L720.8 2838.3L725.2 2842.2L729.6 2845.8L734.0 2849.2L738.5 2852.4L742.9 2855.3L747.3 2857.9L751.7 2860.2L756.1 2862.3L760.6 2864.1L765.0 2865.7L769.4 2866.9L773.8 2867.9L778.3 2868.6L782.7 2869.1L787.1 2869.2L791.5 2869.1L795.9 2868.6L800.4 2867.9L804.8 2866.9L809.2 2865.7L813.6 2864.1L818.1 2862.3L822.5 2860.2L826.9 2857.9L831.3 2855.3L835.7 2852.4L840.2 2849.2L844.6 2845.8L849.0 2842.2L853.4 2838.3L857.9 2834.1L862.3 2829.7L866.7 2825.1L871.1 2820.2L875.5 2815.2L880.0 2809.9L884.4 2804.4L888.8 2798.7L893.2 2792.8L897.7 2786.7L902.1 2780.5L906.5 2774.0L910.9 2767.4L915.3 2760.7L919.8 2753.7L924.2 2746.7L928.6 2739.5L933.0 2732.2L937.5 2724.8L941.9 2717.3L946.3 2709.6L950.7 2701.9L955.1 2694.2L959.6 2686.3L964.0 2678.4L968.4 2670.4L972.8 2662.4L977.3 2654.4L981.7 2646.4L986.1 2638.3L990.5 2630.2L994.9 2622.2L999.4 2614.2L1003.8 2606.2L1008.2 2598.2L1012.6 2590.3L1017.1 2582.4L1021.5 2574.7L1025.9 2567.0L1030.3 2559.3L1034.7 2551.8L1039.2 2544.4L1043.6 2537.1L1048.0 2529.9L1052.4 2522.9L1056.9 2515.9L1061.3 2509.2L1065.7 2502.6L1070.1 2496.1L1074.5 2489.9L1079.0 2483.8L1083.4 2477.9L1087.8 2472.2L1092.2 2466.7L1096.7 2461.4L1101.1 2456.4L1105.5 2451.5L1109.9 2446.9L1114.3 2442.5L1118.8 2438.3L1123.2 2434.4L1127.6 2430.8L1132.0 2427.4L1136.5 2424.2L1140.9 2421.3L1145.3 2418.7L1149.7 2416.4L1154.1 2414.3L1158.6 2412.5L1163.0 2410.9L1167.4 2409.7L1171.8 2408.7L1176.3 2408.0L1180.7 2407.5L1185.1 2407.4L1189.5 2407.5L1193.9 2408.0L1198.4 2408.7L1202.8 2409.7L1207.2 2410.9L1211.6 2412.5L1216.1 2414.3L1220.5 2416.4L1224.9 2418.7L1229.3 2421.3L1233.7 2424.2L1238.2 2427.4L1242.6 2430.8L1247.0 2434.4L1251.4 2438.3L1255.9 2442.5L1260.3 2446.9L1264.7 2451.5L1269.1 2456.4L1273.5 2461.4L1278.0 2466.7L1282.4 2472.2L1286.8 2477.9L1291.2 2483.8L1295.7 2489.9L1300.1 2496.1L1304.5 2502.6L1308.9 2509.2L1313.3 2515.9L1317.8 2522.9L1322.2 2529.9L1326.6 2537.1L1331.0 2544.4L1335.5 2551.8L1339.9 2559.3L1344.3 2567.0L1348.7 2574.7L1353.1 2582.4L1357.6 2590.3L1362.0 2598.2L1366.4 2606.2L1370.8 2614.2L1375.3 2622.2L1379.7 2630.2L1384.1 2638.3L1388.5 2646.4L1392.9 2654.4L1397.4 2662.4L1401.8 2670.4L1406.2 2678.4L1410.6 2686.3L1415.1 2694.2L1419.5 2701.9L1423.9 2709.6L1428.3 2717.3L1432.7 2724.8L1437.2 2732.2L1441.6 2739.5L1446.0 2746.7L1450.4 2753.7L1454.9 2760.7L1459.3 2767.4L1463.7 2774.0L1468.1 2780.5L1472.5 2786.7L1477.0 2792.8L1481.4 2798.7L1485.8 2804.4L1490.2 2809.9L1494.7 2815.2L1499.1 2820.2L1503.5 2825.1L1507.9 2829.7L1512.3 2834.1L1516.8 2838.3L1521.2 2842.2L1525.6 2845.8L1530.0 2849.2L1534.5 2852.4L1538.9 2855.3L1543.3 2857.9L1547.7 2860.2L1552.1 2862.3L1556.6 2864.1L1561.0 2865.7L1565.4 2866.9L1569.8 2867.9L1574.3 2868.6L1578.7 2869.1L1583.1 2869.2L1587.5 2869.1L1591.9 2868.6L1596.4 2867.9L1600.8 2866.9L1605.2 2865.7L1609.6 2864.1L1614.1 2862.3L1618.5 2860.2L1622.9 2857.9L1627.3 2855.3L1631.7 2852.4L1636.2 2849.2L1640.6 2845.8L1645.0 2842.2L1649.4 2838.3L1653.9 2834.1L1658.3 2829.7L1662.7 2825.1L1667.1 2820.2L1671.5 2815.2L1676.0 2809.9L1680.4 2804.4L1684.8 2798.7L1689.2 2792.8L1693.7 2786.7L1698.1 2780.5L1702.5 2774.0L1706.9 2767.4L1711.3 2760.7L1715.8 2753.7L1720.2 2746.7L1724.6 2739.5L1729.0 2732.2L1733.5 2724.8L1737.9 2717.3L1742.3 2709.6L1746.7 2701.9L1751.1 2694.2L1755.6 2686.3L1760.0 2678.4L1764.4 2670.4L1768.8 2662.4L1773.3 2654.4L1777.7 2646.4L1782.1 2638.3"/><path d="M190.1 2638.3L194.5 2633.1L198.9 2627.9L203.4 2622.8L207.8 2617.6L212.2 2612.5L216.6 2607.4L221.1 2602.3L225.5 2597.3L229.9 2592.4L234.3 2587.5L238.7 2582.6L243.2 2577.9L247.6 2573.1L252.0 2568.5L256.4 2564.0L260.9 2559.5L265.3 2555.2L269.7 2550.9L274.1 2546.8L278.5 2542.8L283.0 2538.9L287.4 2535.1L291.8 2531.4L296.2 2527.9L300.7 2524.5L305.1 2521.2L309.5 2518.1L313.9 2515.1L318.3 2512.3L322.8 2509.6L327.2 2507.1L331.6 2504.7L336.0 2502.5L340.5 2500.5L344.9 2498.6L349.3 2497.0L353.7 2495.4L358.1 2494.1L362.6 2492.9L367.0 2491.9L371.4 2491.1L375.8 2490.5L380.3 2490.0L384.7 2489.8L389.1 2489.7L393.5 2489.8L397.9 2490.0L402.4 2490.5L406.8 2491.1L411.2 2491.9L415.6 2492.9L420.1 2494.1L424.5 2495.4L428.9 2497.0L433.3 2498.6L437.7 2500.5L442.2 2502.5L446.6 2504.7L451.0 2507.1L455.4 2509.6L459.9 2512.3L464.3 2515.1L468.7 2518.1L473.1 2521.2L477.5 2524.5L482.0 2527.9L486.4 2531.4L490.8 2535.1L495.2 2538.9L499.7 2542.8L504.1 2546.8L508.5 2550.9L512.9 2555.2L517.3 2559.5L521.8 2564.0L526.2 2568.5L530.6 2573.1L535.0 2577.9L539.5 2582.6L543.9 2587.5L548.3 2592.4L552.7 2597.3L557.1 2602.3L561.6 2607.4L566.0 2612.5L570.4 2617.6L574.8 2622.8L579.3 2627.9L583.7 2633.1L588.1 2638.3L592.5 2643.5L596.9 2648.7L601.4 2653.8L605.8 2659.0L610.2 2664.1L614.6 2669.2L619.1 2674.3L623.5 2679.3L627.9 2684.2L632.3 2689.1L636.7 2694.0L641.2 2698.7L645.6 2703.5L650.0 2708.1L654.4 2712.6L658.9 2717.1L663.3 2721.4L667.7 2725.7L672.1 2729.8L676.5 2733.8L681.0 2737.7L685.4 2741.5L689.8 2745.2L694.2 2748.7L698.7 2752.1L703.1 2755.4L707.5 2758.5L711.9 2761.5L716.3 2764.3L720.8 2767.0L725.2 2769.5L729.6 2771.9L734.0 2774.1L738.5 2776.1L742.9 2778.0L747.3 2779.6L751.7 2781.2L756.1 2782.5L760.6 2783.7L765.0 2784.7L769.4 2785.5L773.8 2786.1L778.3 2786.6L782.7 2786.8L787.1 2786.9L791.5 2786.8L795.9 2786.6L800.4 2786.1L804.8 2785.5L809.2 2784.7L813.6 2783.7L818.1 2782.5L822.5 2781.2L826.9 2779.6L831.3 2778.0L835.7 2776.1L840.2 2774.1L844.6 2771.9L849.0 2769.5L853.4 2767.0L857.9 2764.3L862.3 2761.5L866.7 2758.5L871.1 2755.4L875.5 2752.1L880.0 2748.7L884.4 2745.2L888.8 2741.5L893.2 2737.7L897.7 2733.8L902.1 2729.8L906.5 2725.7L910.9 2721.4L915.3 2717.1L919.8 2712.6L924.2 2708.1L928.6 2703.5L933.0 2698.7L937.5 2694.0L941.9 2689.1L946.3 2684.2L950.7 2679.3L955.1 2674.3L959.6 2669.2L964.0 2664.1L968.4 2659.0L972.8 2653.8L977.3 2648.7L981.7 2643.5L986.1 2638.3L990.5 2633.1L994.9 2627.9L999.4 2622.8L1003.8 2617.6L1008.2 2612.5L1012.6 2607.4L1017.1 2602.3L1021.5 2597.3L1025.9 2592.4L1030.3 2587.5L1034.7 2582.6L1039.2 2577.9L1043.6 2573.1L1048.0 2568.5L1052.4 2564.0L1056.9 2559.5L1061.3 2555.2L1065.7 2550.9L1070.1 2546.8L1074.5 2542.8L1079.0 2538.9L1083.4 2535.1L1087.8 2531.4L1092.2 2527.9L1096.7 2524.5L1101.1 2521.2L1105.5 2518.1L1109.9 2515.1L1114.3 2512.3L1118.8 2509.6L1123.2 2507.1L1127.6 2504.7L1132.0 2502.5L1136.5 2500.5L1140.9 2498.6L1145.3 2497.0L1149.7 2495.4L1154.1 2494.1L1158.6 2492.9L1163.0 2491.9L1167.4 2491.1L1171.8 2490.5L1176.3 2490.0L1180.7 2489.8L1185.1 2489.7L1189.5 2489.8L1193.9 2490.0L1198.4 2490.5L1202.8 2491.1L1207.2 2491.9L1211.6 2492.9L1216.1 2494.1L1220.5 2495.4L1224.9 2497.0L1229.3 2498.6L1233.7 2500.5L1238.2 2502.5L1242.6 2504.7L1247.0 2507.1L1251.4 2509.6L1255.9 2512.3L1260.3 2515.1L1264.7 2518.1L1269.1 2521.2L1273.5 2524.5L1278.0 2527.9L1282.4 2531.4L1286.8 2535.1L1291.2 2538.9L1295.7 2542.8L1300.1 2546.8L1304.5 2550.9L1308.9 2555.2L1313.3 2559.5L1317.8 2564.0L1322.2 2568.5L1326.6 2573.1L1331.0 2577.9L1335.5 2582.6L1339.9 2587.5L1344.3 2592.4L1348.7 2597.3L1353.1 2602.3L1357.6 2607.4L1362.0 2612.5L1366.4 2617.6L1370.8 2622.8L1375.3 2627.9L1379.7 2633.1L1384.1 2638.3L1388.5 2643.5L1392.9 2648.7L1397.4 2653.8L1401.8 2659.0L1406.2 2664.1L1410.6 2669.2L1415.1 2674.3L1419.5 2679.3L1423.9 2684.2L1428.3 2689.1L1432.7 2694.0L1437.2 2698.7L1441.6 2703.5L1446.0 2708.1L1450.4 2712.6L1454.9 2717.1L1459.3 2721.4L1463.7 2725.7L1468.1 2729.8L1472.5 2733.8L1477.0 2737.7L1481.4 2741.5L1485.8 2745.2L1490.2 2748.7L1494.7 2752.1L1499.1 2755.4L1503.5 2758.5L1507.9 2761.5L1512.3 2764.3L1516.8 2767.0L1521.2 2769.5L1525.6 2771.9L1530.0 2774.1L1534.5 2776.1L1538.9 2778.0L1543.3 2779.6L1547.7 2781.2L1552.1 2782.5L1556.6 2783.7L1561.0 2784.7L1565.4 2785.5L1569.8 2786.1L1574.3 2786.6L1578.7 2786.8L1583.1 2786.9L1587.5 2786.8L1591.9 2786.6L1596.4 2786.1L1600.8 2785.5L1605.2 2784.7L1609.6 2783.7L1614.1 2782.5L1618.5 2781.2L1622.9 2779.6L1627.3 2778.0L1631.7 2776.1L1636.2 2774.1L1640.6 2771.9L1645.0 2769.5L1649.4 2767.0L1653.9 2764.3L1658.3 2761.5L1662.7 2758.5L1667.1 2755.4L1671.5 2752.1L1676.0 2748.7L1680.4 2745.2L1684.8 2741.5L1689.2 2737.7L1693.7 2733.8L1698.1 2729.8L1702.5 2725.7L1706.9 2721.4L1711.3 2717.1L1715.8 2712.6L1720.2 2708.1L1724.6 2703.5L1729.0 2698.7L1733.5 2694.0L1737.9 2689.1L1742.3 2684.2L1746.7 2679.3L1751.1 2674.3L1755.6 2669.2L1760.0 2664.1L1764.4 2659.0L1768.8 2653.8L1773.3 2648.7L1777.7 2643.5L1782.1 2638.3"/><path d="M190.1 2638.3L194.5 2635.4L198.9 2632.4L203.4 2629.5L207.8 2626.6L212.2 2623.7L216.6 2620.8L221.1 2618.0L225.5 2615.2L229.9 2612.4L234.3 2609.6L238.7 2606.8L243.2 2604.1L247.6 2601.5L252.0 2598.9L256.4 2596.3L260.9 2593.8L265.3 2591.3L269.7 2588.9L274.1 2586.6L278.5 2584.3L283.0 2582.1L287.4 2580.0L291.8 2577.9L296.2 2575.9L300.7 2574.0L305.1 2572.1L309.5 2570.4L313.9 2568.7L318.3 2567.1L322.8 2565.6L327.2 2564.2L331.6 2562.8L336.0 2561.6L340.5 2560.4L344.9 2559.4L349.3 2558.4L353.7 2557.6L358.1 2556.8L362.6 2556.2L367.0 2555.6L371.4 2555.1L375.8 2554.8L380.3 2554.5L384.7 2554.4L389.1 2554.3L393.5 2554.4L397.9 2554.5L402.4 2554.8L406.8 2555.1L411.2 2555.6L415.6 2556.2L420.1 2556.8L424.5 2557.6L428.9 2558.4L433.3 2559.4L437.7 2560.4L442.2 2561.6L446.6 2562.8L451.0 2564.2L455.4 2565.6L459.9 2567.1L464.3 2568.7L468.7 2570.4L473.1 2572.1L477.5 2574.0L482.0 2575.9L486.4 2577.9L490.8 2580.0L495.2 2582.1L499.7 2584.3L504.1 2586.6L508.5 2588.9L512.9 2591.3L517.3 2593.8L521.8 2596.3L526.2 2598.9L530.6 2601.5L535.0 2604.1L539.5 2606.8L543.9 2609.6L548.3 2612.4L552.7 2615.2L557.1 2618.0L561.6 2620.8L566.0 2623.7L570.4 2626.6L574.8 2629.5L579.3 2632.4L583.7 2635.4L588.1 2638.3L592.5 2641.2L596.9 2644.2L601.4 2647.1L605.8 2650.0L610.2 2652.9L614.6 2655.8L619.1 2658.6L623.5 2661.4L627.9 2664.2L632.3 2667.0L636.7 2669.8L641.2 2672.5L645.6 2675.1L650.0 2677.7L654.4 2680.3L658.9 2682.8L663.3 2685.3L667.7 2687.7L672.1 2690.0L676.5 2692.3L681.0 2694.5L685.4 2696.6L689.8 2698.7L694.2 2700.7L698.7 2702.6L703.1 2704.5L707.5 2706.2L711.9 2707.9L716.3 2709.5L720.8 2711.0L725.2 2712.4L729.6 2713.8L734.0 2715.0L738.5 2716.2L742.9 2717.2L747.3 2718.2L751.7 2719.0L756.1 2719.8L760.6 2720.4L765.0 2721.0L769.4 2721.5L773.8 2721.8L778.3 2722.1L782.7 2722.2L787.1 2722.3L791.5 2722.2L795.9 2722.1L800.4 2721.8L804.8 2721.5L809.2 2721.0L813.6 2720.4L818.1 2719.8L822.5 2719.0L826.9 2718.2L831.3 2717.2L835.7 2716.2L840.2 2715.0L844.6 2713.8L849.0 2712.4L853.4 2711.0L857.9 2709.5L862.3 2707.9L866.7 2706.2L871.1 2704.5L875.5 2702.6L880.0 2700.7L884.4 2698.7L888.8 2696.6L893.2 2694.5L897.7 2692.3L902.1 2690.0L906.5 2687.7L910.9 2685.3L915.3 2682.8L919.8 2680.3L924.2 2677.7L928.6 2675.1L933.0 2672.5L937.5 2669.8L941.9 2667.0L946.3 2664.2L950.7 2661.4L955.1 2658.6L959.6 2655.8L964.0 2652.9L968.4 2650.0L972.8 2647.1L977.3 2644.2L981.7 2641.2L986.1 2638.3L990.5 2635.4L994.9 2632.4L999.4 2629.5L1003.8 2626.6L1008.2 2623.7L1012.6 2620.8L1017.1 2618.0L1021.5 2615.2L1025.9 2612.4L1030.3 2609.6L1034.7 2606.8L1039.2 2604.1L1043.6 2601.5L1048.0 2598.9L1052.4 2596.3L1056.9 2593.8L1061.3 2591.3L1065.7 2588.9L1070.1 2586.6L1074.5 2584.3L1079.0 2582.1L1083.4 2580.0L1087.8 2577.9L1092.2 2575.9L1096.7 2574.0L1101.1 2572.1L1105.5 2570.4L1109.9 2568.7L1114.3 2567.1L1118.8 2565.6L1123.2 2564.2L1127.6 2562.8L1132.0 2561.6L1136.5 2560.4L1140.9 2559.4L1145.3 2558.4L1149.7 2557.6L1154.1 2556.8L1158.6 2556.2L1163.0 2555.6L1167.4 2555.1L1171.8 2554.8L1176.3 2554.5L1180.7 2554.4L1185.1 2554.3L1189.5 2554.4L1193.9 2554.5L1198.4 2554.8L1202.8 2555.1L1207.2 2555.6L1211.6 2556.2L1216.1 2556.8L1220.5 2557.6L1224.9 2558.4L1229.3 2559.4L1233.7 2560.4L1238.2 2561.6L1242.6 2562.8L1247.0 2564.2L1251.4 2565.6L1255.9 2567.1L1260.3 2568.7L1264.7 2570.4L1269.1 2572.1L1273.5 2574.0L1278.0 2575.9L1282.4 2577.9L1286.8 2580.0L1291.2 2582.1L1295.7 2584.3L1300.1 2586.6L1304.5 2588.9L1308.9 2591.3L1313.3 2593.8L1317.8 2596.3L1322.2 2598.9L1326.6 2601.5L1331.0 2604.1L1335.5 2606.8L1339.9 2609.6L1344.3 2612.4L1348.7 2615.2L1353.1 2618.0L1357.6 2620.8L1362.0 2623.7L1366.4 2626.6L1370.8 2629.5L1375.3 2632.4L1379.7 2635.4L1384.1 2638.3L1388.5 2641.2L1392.9 2644.2L1397.4 2647.1L1401.8 2650.0L1406.2 2652.9L1410.6 2655.8L1415.1 2658.6L1419.5 2661.4L1423.9 2664.2L1428.3 2667.0L1432.7 2669.8L1437.2 2672.5L1441.6 2675.1L1446.0 2677.7L1450.4 2680.3L1454.9 2682.8L1459.3 2685.3L1463.7 2687.7L1468.1 2690.0L1472.5 2692.3L1477.0 2694.5L1481.4 2696.6L1485.8 2698.7L1490.2 2700.7L1494.7 2702.6L1499.1 2704.5L1503.5 2706.2L1507.9 2707.9L1512.3 2709.5L1516.8 2711.0L1521.2 2712.4L1525.6 2713.8L1530.0 2715.0L1534.5 2716.2L1538.9 2717.2L1543.3 2718.2L1547.7 2719.0L1552.1 2719.8L1556.6 2720.4L1561.0 2721.0L1565.4 2721.5L1569.8 2721.8L1574.3 2722.1L1578.7 2722.2L1583.1 2722.3L1587.5 2722.2L1591.9 2722.1L1596.4 2721.8L1600.8 2721.5L1605.2 2721.0L1609.6 2720.4L1614.1 2719.8L1618.5 2719.0L1622.9 2718.2L1627.3 2717.2L1631.7 2716.2L1636.2 2715.0L1640.6 2713.8L1645.0 2712.4L1649.4 2711.0L1653.9 2709.5L1658.3 2707.9L1662.7 2706.2L1667.1 2704.5L1671.5 2702.6L1676.0 2700.7L1680.4 2698.7L1684.8 2696.6L1689.2 2694.5L1693.7 2692.3L1698.1 2690.0L1702.5 2687.7L1706.9 2685.3L1711.3 2682.8L1715.8 2680.3L1720.2 2677.7L1724.6 2675.1L1729.0 2672.5L1733.5 2669.8L1737.9 2667.0L1742.3 2664.2L1746.7 2661.4L1751.1 2658.6L1755.6 2655.8L1760.0 2652.9L1764.4 2650.0L1768.8 2647.1L1773.3 2644.2L1777.7 2641.2L1782.1 2638.3"/><path d="M190.1 2638.3L194.5 2637.0L198.9 2635.7L203.4 2634.4L207.8 2633.1L212.2 2631.8L216.6 2630.5L221.1 2629.2L225.5 2628.0L229.9 2626.7L234.3 2625.5L238.7 2624.3L243.2 2623.1L247.6 2621.9L252.0 2620.7L256.4 2619.6L260.9 2618.5L265.3 2617.4L269.7 2616.3L274.1 2615.2L278.5 2614.2L283.0 2613.2L287.4 2612.3L291.8 2611.4L296.2 2610.5L300.7 2609.6L305.1 2608.8L309.5 2608.0L313.9 2607.3L318.3 2606.5L322.8 2605.9L327.2 2605.2L331.6 2604.6L336.0 2604.1L340.5 2603.6L344.9 2603.1L349.3 2602.7L353.7 2602.3L358.1 2602.0L362.6 2601.7L367.0 2601.4L371.4 2601.2L375.8 2601.1L380.3 2601.0L384.7 2600.9L389.1 2600.9L393.5 2600.9L397.9 2601.0L402.4 2601.1L406.8 2601.2L411.2 2601.4L415.6 2601.7L420.1 2602.0L424.5 2602.3L428.9 2602.7L433.3 2603.1L437.7 2603.6L442.2 2604.1L446.6 2604.6L451.0 2605.2L455.4 2605.9L459.9 2606.5L464.3 2607.3L468.7 2608.0L473.1 2608.8L477.5 2609.6L482.0 2610.5L486.4 2611.4L490.8 2612.3L495.2 2613.2L499.7 2614.2L504.1 2615.2L508.5 2616.3L512.9 2617.4L517.3 2618.5L521.8 2619.6L526.2 2620.7L530.6 2621.9L535.0 2623.1L539.5 2624.3L543.9 2625.5L548.3 2626.7L552.7 2628.0L557.1 2629.2L561.6 2630.5L566.0 2631.8L570.4 2633.1L574.8 2634.4L579.3 2635.7L583.7 2637.0L588.1 2638.3L592.5 2639.6L596.9 2640.9L601.4 2642.2L605.8 2643.5L610.2 2644.8L614.6 2646.1L619.1 2647.4L623.5 2648.6L627.9 2649.9L632.3 2651.1L636.7 2652.3L641.2 2653.5L645.6 2654.7L650.0 2655.9L654.4 2657.0L658.9 2658.1L663.3 2659.2L667.7 2660.3L672.1 2661.4L676.5 2662.4L681.0 2663.4L685.4 2664.3L689.8 2665.2L694.2 2666.1L698.7 2667.0L703.1 2667.8L707.5 2668.6L711.9 2669.3L716.3 2670.1L720.8 2670.7L725.2 2671.4L729.6 2672.0L734.0 2672.5L738.5 2673.0L742.9 2673.5L747.3 2673.9L751.7 2674.3L756.1 2674.6L760.6 2674.9L765.0 2675.2L769.4 2675.4L773.8 2675.5L778.3 2675.6L782.7 2675.7L787.1 2675.7L791.5 2675.7L795.9 2675.6L800.4 2675.5L804.8 2675.4L809.2 2675.2L813.6 2674.9L818.1 2674.6L822.5 2674.3L826.9 2673.9L831.3 2673.5L835.7 2673.0L840.2 2672.5L844.6 2672.0L849.0 2671.4L853.4 2670.7L857.9 2670.1L862.3 2669.3L866.7 2668.6L871.1 2667.8L875.5 2667.0L880.0 2666.1L884.4 2665.2L888.8 2664.3L893.2 2663.4L897.7 2662.4L902.1 2661.4L906.5 2660.3L910.9 2659.2L915.3 2658.1L919.8 2657.0L924.2 2655.9L928.6 2654.7L933.0 2653.5L937.5 2652.3L941.9 2651.1L946.3 2649.9L950.7 2648.6L955.1 2647.4L959.6 2646.1L964.0 2644.8L968.4 2643.5L972.8 2642.2L977.3 2640.9L981.7 2639.6L986.1 2638.3L990.5 2637.0L994.9 2635.7L999.4 2634.4L1003.8 2633.1L1008.2 2631.8L1012.6 2630.5L1017.1 2629.2L1021.5 2628.0L1025.9 2626.7L1030.3 2625.5L1034.7 2624.3L1039.2 2623.1L1043.6 2621.9L1048.0 2620.7L1052.4 2619.6L1056.9 2618.5L1061.3 2617.4L1065.7 2616.3L1070.1 2615.2L1074.5 2614.2L1079.0 2613.2L1083.4 2612.3L1087.8 2611.4L1092.2 2610.5L1096.7 2609.6L1101.1 2608.8L1105.5 2608.0L1109.9 2607.3L1114.3 2606.5L1118.8 2605.9L1123.2 2605.2L1127.6 2604.6L1132.0 2604.1L1136.5 2603.6L1140.9 2603.1L1145.3 2602.7L1149.7 2602.3L1154.1 2602.0L1158.6 2601.7L1163.0 2601.4L1167.4 2601.2L1171.8 2601.1L1176.3 2601.0L1180.7 2600.9L1185.1 2600.9L1189.5 2600.9L1193.9 2601.0L1198.4 2601.1L1202.8 2601.2L1207.2 2601.4L1211.6 2601.7L1216.1 2602.0L1220.5 2602.3L1224.9 2602.7L1229.3 2603.1L1233.7 2603.6L1238.2 2604.1L1242.6 2604.6L1247.0 2605.2L1251.4 2605.9L1255.9 2606.5L1260.3 2607.3L1264.7 2608.0L1269.1 2608.8L1273.5 2609.6L1278.0 2610.5L1282.4 2611.4L1286.8 2612.3L1291.2 2613.2L1295.7 2614.2L1300.1 2615.2L1304.5 2616.3L1308.9 2617.4L1313.3 2618.5L1317.8 2619.6L1322.2 2620.7L1326.6 2621.9L1331.0 2623.1L1335.5 2624.3L1339.9 2625.5L1344.3 2626.7L1348.7 2628.0L1353.1 2629.2L1357.6 2630.5L1362.0 2631.8L1366.4 2633.1L1370.8 2634.4L1375.3 2635.7L1379.7 2637.0L1384.1 2638.3L1388.5 2639.6L1392.9 2640.9L1397.4 2642.2L1401.8 2643.5L1406.2 2644.8L1410.6 2646.1L1415.1 2647.4L1419.5 2648.6L1423.9 2649.9L1428.3 2651.1L1432.7 2652.3L1437.2 2653.5L1441.6 2654.7L1446.0 2655.9L1450.4 2657.0L1454.9 2658.1L1459.3 2659.2L1463.7 2660.3L1468.1 2661.4L1472.5 2662.4L1477.0 2663.4L1481.4 2664.3L1485.8 2665.2L1490.2 2666.1L1494.7 2667.0L1499.1 2667.8L1503.5 2668.6L1507.9 2669.3L1512.3 2670.1L1516.8 2670.7L1521.2 2671.4L1525.6 2672.0L1530.0 2672.5L1534.5 2673.0L1538.9 2673.5L1543.3 2673.9L1547.7 2674.3L1552.1 2674.6L1556.6 2674.9L1561.0 2675.2L1565.4 2675.4L1569.8 2675.5L1574.3 2675.6L1578.7 2675.7L1583.1 2675.7L1587.5 2675.7L1591.9 2675.6L1596.4 2675.5L1600.8 2675.4L1605.2 2675.2L1609.6 2674.9L1614.1 2674.6L1618.5 2674.3L1622.9 2673.9L1627.3 2673.5L1631.7 2673.0L1636.2 2672.5L1640.6 2672.0L1645.0 2671.4L1649.4 2670.7L1653.9 2670.1L1658.3 2669.3L1662.7 2668.6L1667.1 2667.8L1671.5 2667.0L1676.0 2666.1L1680.4 2665.2L1684.8 2664.3L1689.2 2663.4L1693.7 2662.4L1698.1 2661.4L1702.5 2660.3L1706.9 2659.2L1711.3 2658.1L1715.8 2657.0L1720.2 2655.9L1724.6 2654.7L1729.0 2653.5L1733.5 2652.3L1737.9 2651.1L1742.3 2649.9L1746.7 2648.6L1751.1 2647.4L1755.6 2646.1L1760.0 2644.8L1764.4 2643.5L1768.8 2642.2L1773.3 2640.9L1777.7 2639.6L1782.1 2638.3"/><path d="M190.1 2638.3L194.5 2638.0L198.9 2637.6L203.4 2637.3L207.8 2637.0L212.2 2636.7L216.6 2636.4L221.1 2636.0L225.5 2635.7L229.9 2635.4L234.3 2635.1L238.7 2634.8L243.2 2634.5L247.6 2634.2L252.0 2633.9L256.4 2633.6L260.9 2633.3L265.3 2633.1L269.7 2632.8L274.1 2632.5L278.5 2632.3L283.0 2632.0L287.4 2631.8L291.8 2631.6L296.2 2631.3L300.7 2631.1L305.1 2630.9L309.5 2630.7L313.9 2630.5L318.3 2630.3L322.8 2630.2L327.2 2630.0L331.6 2629.9L336.0 2629.7L340.5 2629.6L344.9 2629.5L349.3 2629.4L353.7 2629.3L358.1 2629.2L362.6 2629.1L367.0 2629.1L371.4 2629.0L375.8 2629.0L380.3 2628.9L384.7 2628.9L389.1 2628.9L393.5 2628.9L397.9 2628.9L402.4 2629.0L406.8 2629.0L411.2 2629.1L415.6 2629.1L420.1 2629.2L424.5 2629.3L428.9 2629.4L433.3 2629.5L437.7 2629.6L442.2 2629.7L446.6 2629.9L451.0 2630.0L455.4 2630.2L459.9 2630.3L464.3 2630.5L468.7 2630.7L473.1 2630.9L477.5 2631.1L482.0 2631.3L486.4 2631.6L490.8 2631.8L495.2 2632.0L499.7 2632.3L504.1 2632.5L508.5 2632.8L512.9 2633.1L517.3 2633.3L521.8 2633.6L526.2 2633.9L530.6 2634.2L535.0 2634.5L539.5 2634.8L543.9 2635.1L548.3 2635.4L552.7 2635.7L557.1 2636.0L561.6 2636.4L566.0 2636.7L570.4 2637.0L574.8 2637.3L579.3 2637.6L583.7 2638.0L588.1 2638.3L592.5 2638.6L596.9 2639.0L601.4 2639.3L605.8 2639.6L610.2 2639.9L614.6 2640.2L619.1 2640.6L623.5 2640.9L627.9 2641.2L632.3 2641.5L636.7 2641.8L641.2 2642.1L645.6 2642.4L650.0 2642.7L654.4 2643.0L658.9 2643.3L663.3 2643.5L667.7 2643.8L672.1 2644.1L676.5 2644.3L681.0 2644.6L685.4 2644.8L689.8 2645.0L694.2 2645.3L698.7 2645.5L703.1 2645.7L707.5 2645.9L711.9 2646.1L716.3 2646.3L720.8 2646.4L725.2 2646.6L729.6 2646.7L734.0 2646.9L738.5 2647.0L742.9 2647.1L747.3 2647.2L751.7 2647.3L756.1 2647.4L760.6 2647.5L765.0 2647.5L769.4 2647.6L773.8 2647.6L778.3 2647.7L782.7 2647.7L787.1 2647.7L791.5 2647.7L795.9 2647.7L800.4 2647.6L804.8 2647.6L809.2 2647.5L813.6 2647.5L818.1 2647.4L822.5 2647.3L826.9 2647.2L831.3 2647.1L835.7 2647.0L840.2 2646.9L844.6 2646.7L849.0 2646.6L853.4 2646.4L857.9 2646.3L862.3 2646.1L866.7 2645.9L871.1 2645.7L875.5 2645.5L880.0 2645.3L884.4 2645.0L888.8 2644.8L893.2 2644.6L897.7 2644.3L902.1 2644.1L906.5 2643.8L910.9 2643.5L915.3 2643.3L919.8 2643.0L924.2 2642.7L928.6 2642.4L933.0 2642.1L937.5 2641.8L941.9 2641.5L946.3 2641.2L950.7 2640.9L955.1 2640.6L959.6 2640.2L964.0 2639.9L968.4 2639.6L972.8 2639.3L977.3 2639.0L981.7 2638.6L986.1 2638.3L990.5 2638.0L994.9 2637.6L999.4 2637.3L1003.8 2637.0L1008.2 2636.7L1012.6 2636.4L1017.1 2636.0L1021.5 2635.7L1025.9 2635.4L1030.3 2635.1L1034.7 2634.8L1039.2 2634.5L1043.6 2634.2L1048.0 2633.9L1052.4 2633.6L1056.9 2633.3L1061.3 2633.1L1065.7 2632.8L1070.1 2632.5L1074.5 2632.3L1079.0 2632.0L1083.4 2631.8L1087.8 2631.6L1092.2 2631.3L1096.7 2631.1L1101.1 2630.9L1105.5 2630.7L1109.9 2630.5L1114.3 2630.3L1118.8 2630.2L1123.2 2630.0L1127.6 2629.9L1132.0 2629.7L1136.5 2629.6L1140.9 2629.5L1145.3 2629.4L1149.7 2629.3L1154.1 2629.2L1158.6 2629.1L1163.0 2629.1L1167.4 2629.0L1171.8 2629.0L1176.3 2628.9L1180.7 2628.9L1185.1 2628.9L1189.5 2628.9L1193.9 2628.9L1198.4 2629.0L1202.8 2629.0L1207.2 2629.1L1211.6 2629.1L1216.1 2629.2L1220.5 2629.3L1224.9 2629.4L1229.3 2629.5L1233.7 2629.6L1238.2 2629.7L1242.6 2629.9L1247.0 2630.0L1251.4 2630.2L1255.9 2630.3L1260.3 2630.5L1264.7 2630.7L1269.1 2630.9L1273.5 2631.1L1278.0 2631.3L1282.4 2631.6L1286.8 2631.8L1291.2 2632.0L1295.7 2632.3L1300.1 2632.5L1304.5 2632.8L1308.9 2633.1L1313.3 2633.3L1317.8 2633.6L1322.2 2633.9L1326.6 2634.2L1331.0 2634.5L1335.5 2634.8L1339.9 2635.1L1344.3 2635.4L1348.7 2635.7L1353.1 2636.0L1357.6 2636.4L1362.0 2636.7L1366.4 2637.0L1370.8 2637.3L1375.3 2637.6L1379.7 2638.0L1384.1 2638.3L1388.5 2638.6L1392.9 2639.0L1397.4 2639.3L1401.8 2639.6L1406.2 2639.9L1410.6 2640.2L1415.1 2640.6L1419.5 2640.9L1423.9 2641.2L1428.3 2641.5L1432.7 2641.8L1437.2 2642.1L1441.6 2642.4L1446.0 2642.7L1450.4 2643.0L1454.9 2643.3L1459.3 2643.5L1463.7 2643.8L1468.1 2644.1L1472.5 2644.3L1477.0 2644.6L1481.4 2644.8L1485.8 2645.0L1490.2 2645.3L1494.7 2645.5L1499.1 2645.7L1503.5 2645.9L1507.9 2646.1L1512.3 2646.3L1516.8 2646.4L1521.2 2646.6L1525.6 2646.7L1530.0 2646.9L1534.5 2647.0L1538.9 2647.1L1543.3 2647.2L1547.7 2647.3L1552.1 2647.4L1556.6 2647.5L1561.0 2647.5L1565.4 2647.6L1569.8 2647.6L1574.3 2647.7L1578.7 2647.7L1583.1 2647.7L1587.5 2647.7L1591.9 2647.7L1596.4 2647.6L1600.8 2647.6L1605.2 2647.5L1609.6 2647.5L1614.1 2647.4L1618.5 2647.3L1622.9 2647.2L1627.3 2647.1L1631.7 2647.0L1636.2 2646.9L1640.6 2646.7L1645.0 2646.6L1649.4 2646.4L1653.9 2646.3L1658.3 2646.1L1662.7 2645.9L1667.1 2645.7L1671.5 2645.5L1676.0 2645.3L1680.4 2645.0L1684.8 2644.8L1689.2 2644.6L1693.7 2644.3L1698.1 2644.1L1702.5 2643.8L1706.9 2643.5L1711.3 2643.3L1715.8 2643.0L1720.2 2642.7L1724.6 2642.4L1729.0 2642.1L1733.5 2641.8L1737.9 2641.5L1742.3 2641.2L1746.7 2640.9L1751.1 2640.6L1755.6 2640.2L1760.0 2639.9L1764.4 2639.6L1768.8 2639.3L1773.3 2639.0L1777.7 2638.6L1782.1 2638.3"/><path d="M190.1 2638.3L194.5 2638.3L198.9 2638.3L203.4 2638.3L207.8 2638.3L212.2 2638.3L216.6 2638.3L221.1 2638.3L225.5 2638.3L229.9 2638.3L234.3 2638.3L238.7 2638.3L243.2 2638.3L247.6 2638.3L252.0 2638.3L256.4 2638.3L260.9 2638.3L265.3 2638.3L269.7 2638.3L274.1 2638.3L278.5 2638.3L283.0 2638.3L287.4 2638.3L291.8 2638.3L296.2 2638.3L300.7 2638.3L305.1 2638.3L309.5 2638.3L313.9 2638.3L318.3 2638.3L322.8 2638.3L327.2 2638.3L331.6 2638.3L336.0 2638.3L340.5 2638.3L344.9 2638.3L349.3 2638.3L353.7 2638.3L358.1 2638.3L362.6 2638.3L367.0 2638.3L371.4 2638.3L375.8 2638.3L380.3 2638.3L384.7 2638.3L389.1 2638.3L393.5 2638.3L397.9 2638.3L402.4 2638.3L406.8 2638.3L411.2 2638.3L415.6 2638.3L420.1 2638.3L424.5 2638.3L428.9 2638.3L433.3 2638.3L437.7 2638.3L442.2 2638.3L446.6 2638.3L451.0 2638.3L455.4 2638.3L459.9 2638.3L464.3 2638.3L468.7 2638.3L473.1 2638.3L477.5 2638.3L482.0 2638.3L486.4 2638.3L490.8 2638.3L495.2 2638.3L499.7 2638.3L504.1 2638.3L508.5 2638.3L512.9 2638.3L517.3 2638.3L521.8 2638.3L526.2 2638.3L530.6 2638.3L535.0 2638.3L539.5 2638.3L543.9 2638.3L548.3 2638.3L552.7 2638.3L557.1 2638.3L561.6 2638.3L566.0 2638.3L570.4 2638.3L574.8 2638.3L579.3 2638.3L583.7 2638.3L588.1 2638.3L592.5 2638.3L596.9 2638.3L601.4 2638.3L605.8 2638.3L610.2 2638.3L614.6 2638.3L619.1 2638.3L623.5 2638.3L627.9 2638.3L632.3 2638.3L636.7 2638.3L641.2 2638.3L645.6 2638.3L650.0 2638.3L654.4 2638.3L658.9 2638.3L663.3 2638.3L667.7 2638.3L672.1 2638.3L676.5 2638.3L681.0 2638.3L685.4 2638.3L689.8 2638.3L694.2 2638.3L698.7 2638.3L703.1 2638.3L707.5 2638.3L711.9 2638.3L716.3 2638.3L720.8 2638.3L725.2 2638.3L729.6 2638.3L734.0 2638.3L738.5 2638.3L742.9 2638.3L747.3 2638.3L751.7 2638.3L756.1 2638.3L760.6 2638.3L765.0 2638.3L769.4 2638.3L773.8 2638.3L778.3 2638.3L782.7 2638.3L787.1 2638.3L791.5 2638.3L795.9 2638.3L800.4 2638.3L804.8 2638.3L809.2 2638.3L813.6 2638.3L818.1 2638.3L822.5 2638.3L826.9 2638.3L831.3 2638.3L835.7 2638.3L840.2 2638.3L844.6 2638.3L849.0 2638.3L853.4 2638.3L857.9 2638.3L862.3 2638.3L866.7 2638.3L871.1 2638.3L875.5 2638.3L880.0 2638.3L884.4 2638.3L888.8 2638.3L893.2 2638.3L897.7 2638.3L902.1 2638.3L906.5 2638.3L910.9 2638.3L915.3 2638.3L919.8 2638.3L924.2 2638.3L928.6 2638.3L933.0 2638.3L937.5 2638.3L941.9 2638.3L946.3 2638.3L950.7 2638.3L955.1 2638.3L959.6 2638.3L964.0 2638.3L968.4 2638.3L972.8 2638.3L977.3 2638.3L981.7 2638.3L986.1 2638.3L990.5 2638.3L994.9 2638.3L999.4 2638.3L1003.8 2638.3L1008.2 2638.3L1012.6 2638.3L1017.1 2638.3L1021.5 2638.3L1025.9 2638.3L1030.3 2638.3L1034.7 2638.3L1039.2 2638.3L1043.6 2638.3L1048.0 2638.3L1052.4 2638.3L1056.9 2638.3L1061.3 2638.3L1065.7 2638.3L1070.1 2638.3L1074.5 2638.3L1079.0 2638.3L1083.4 2638.3L1087.8 2638.3L1092.2 2638.3L1096.7 2638.3L1101.1 2638.3L1105.5 2638.3L1109.9 2638.3L1114.3 2638.3L1118.8 2638.3L1123.2 2638.3L1127.6 2638.3L1132.0 2638.3L1136.5 2638.3L1140.9 2638.3L1145.3 2638.3L1149.7 2638.3L1154.1 2638.3L1158.6 2638.3L1163.0 2638.3L1167.4 2638.3L1171.8 2638.3L1176.3 2638.3L1180.7 2638.3L1185.1 2638.3L1189.5 2638.3L1193.9 2638.3L1198.4 2638.3L1202.8 2638.3L1207.2 2638.3L1211.6 2638.3L1216.1 2638.3L1220.5 2638.3L1224.9 2638.3L1229.3 2638.3L1233.7 2638.3L1238.2 2638.3L1242.6 2638.3L1247.0 2638.3L1251.4 2638.3L1255.9 2638.3L1260.3 2638.3L1264.7 2638.3L1269.1 2638.3L1273.5 2638.3L1278.0 2638.3L1282.4 2638.3L1286.8 2638.3L1291.2 2638.3L1295.7 2638.3L1300.1 2638.3L1304.5 2638.3L1308.9 2638.3L1313.3 2638.3L1317.8 2638.3L1322.2 2638.3L1326.6 2638.3L1331.0 2638.3L1335.5 2638.3L1339.9 2638.3L1344.3 2638.3L1348.7 2638.3L1353.1 2638.3L1357.6 2638.3L1362.0 2638.3L1366.4 2638.3L1370.8 2638.3L1375.3 2638.3L1379.7 2638.3L1384.1 2638.3L1388.5 2638.3L1392.9 2638.3L1397.4 2638.3L1401.8 2638.3L1406.2 2638.3L1410.6 2638.3L1415.1 2638.3L1419.5 2638.3L1423.9 2638.3L1428.3 2638.3L1432.7 2638.3L1437.2 2638.3L1441.6 2638.3L1446.0 2638.3L1450.4 2638.3L1454.9 2638.3L1459.3 2638.3L1463.7 2638.3L1468.1 2638.3L1472.5 2638.3L1477.0 2638.3L1481.4 2638.3L1485.8 2638.3L1490.2 2638.3L1494.7 2638.3L1499.1 2638.3L1503.5 2638.3L1507.9 2638.3L1512.3 2638.3L1516.8 2638.3L1521.2 2638.3L1525.6 2638.3L1530.0 2638.3L1534.5 2638.3L1538.9 2638.3L1543.3 2638.3L1547.7 2638.3L1552.1 2638.3L1556.6 2638.3L1561.0 2638.3L1565.4 2638.3L1569.8 2638.3L1574.3 2638.3L1578.7 2638.3L1583.1 2638.3L1587.5 2638.3L1591.9 2638.3L1596.4 2638.3L1600.8 2638.3L1605.2 2638.3L1609.6 2638.3L1614.1 2638.3L1618.5 2638.3L1622.9 2638.3L1627.3 2638.3L1631.7 2638.3L1636.2 2638.3L1640.6 2638.3L1645.0 2638.3L1649.4 2638.3L1653.9 2638.3L1658.3 2638.3L1662.7 2638.3L1667.1 2638.3L1671.5 2638.3L1676.0 2638.3L1680.4 2638.3L1684.8 2638.3L1689.2 2638.3L1693.7 2638.3L1698.1 2638.3L1702.5 2638.3L1706.9 2638.3L1711.3 2638.3L1715.8 2638.3L1720.2 2638.3L1724.6 2638.3L1729.0 2638.3L1733.5 2638.3L1737.9 2638.3L1742.3 2638.3L1746.7 2638.3L1751.1 2638.3L1755.6 2638.3L1760.0 2638.3L1764.4 2638.3L1768.8 2638.3L1773.3 2638.3L1777.7 2638.3L1782.1 2638.3"/></g>
<use href="#cy" x="-1" y="-1"/>
<use href="#cy" x="1" y="-1"/>
<use href="#cy" x="-1" y="1"/>
<use href="#cy" x="1" y="1"/>
<g font-family="Liberation Sans, Arial, sans-serif" font-size="50.3" fill="#222"><text x="189.5" y="3268.5" text-anchor="middle">0</text><text x="410.61" y="3268.5" text-anchor="middle">50</text><text x="631.72" y="3268.5" text-anchor="middle">100</text><text x="852.83" y="3268.5" text-anchor="middle">150</text><text x="1073.94" y="3268.5" text-anchor="middle">200</text><text x="1295.06" y="3268.5" text-anchor="middle">250</text><text x="1516.17" y="3268.5" text-anchor="middle">300</text><text x="1737.28" y="3268.5" text-anchor="middle">350</text><text x="168.3" y="3090.48" text-anchor="end">-6</text><text x="168.3" y="2946.32" text-anchor="end">-4</text><text x="168.3" y="2802.16" text-anchor="end">-2</text><text x="168.3" y="2658" text-anchor="end">0</text><text x="168.3" y="2513.84" text-anchor="end">2</text><text x="168.3" y="2369.68" text-anchor="end">4</text><text x="168.3" y="2225.52" text-anchor="end">6</text><text x="168.3" y="2081.36" text-anchor="end">8</text></g>
<text x="984.8" y="3336.1" text-anchor="middle" font-family="Liberation Serif, serif" font-weight="bold" font-size="51.5" fill="#222">α(<tspan font-size="58.3" dx="-0.78" dy="3.6">°</tspan><tspan dx="-1.94" dy="-3.6">)</tspan></text>
<text transform="translate(96.5 2570.5) rotate(-90)" text-anchor="middle" font-family="Liberation Serif, serif" font-weight="bold" font-size="52.9" fill="#222">Variation at Y Direction (mm)</text>
<g id="ly" stroke="#000" stroke-width="1.8"><line x1="1096.1" y1="2153.7" x2="1194.0" y2="2489.7"/><line x1="1014.2" y1="2269.3" x2="1153.5" y2="2557.3"/><line x1="932.2" y1="2393.4" x2="1162.5" y2="2602.4"/><line x1="887.2" y1="2516.4" x2="1129.7" y2="2627"/><line x1="520.3" y1="2759.1" x2="712.2" y2="2824.2"/><line x1="537" y1="2867.6" x2="711.2" y2="2909.6"/><line x1="555.3" y1="2992.8" x2="737.3" y2="3087.2"/></g>
<use href="#ly" x="-1" y="-1"/>
<use href="#ly" x="1" y="-1"/>
<use href="#ly" x="-1" y="1"/>
<use href="#ly" x="1" y="1"/>
<g font-family="Liberation Serif, serif" fill="#000"><text x="911.71" y="2139.53" font-family="Liberation Sans, Arial, sans-serif" font-size="53.45" stroke="#fff" stroke-width="1">β </text><text transform="translate(954.03 2136.64) scale(1.115 0.72)" x="0" y="0" font-size="58.74">=</text><text x="985.72" y="2143" font-size="58.74">2<tspan x="1018.17">0</tspan><tspan x="1045.61" font-size="60.19" dy="0.96" stroke="#fff" stroke-width="1.2">°</tspan></text><text x="826.71" y="2262.73" font-family="Liberation Sans, Arial, sans-serif" font-size="53.45" stroke="#fff" stroke-width="1">β </text><text transform="translate(869.03 2259.84) scale(1.115 0.72)" x="0" y="0" font-size="58.74">=</text><text x="904.33" y="2266.2" font-size="58.74">1<tspan x="933.39">5</tspan><tspan x="960.61" font-size="60.19" dy="0.96" stroke="#fff" stroke-width="1.2">°</tspan></text><text x="762.81" y="2386.83" font-family="Liberation Sans, Arial, sans-serif" font-size="53.45" stroke="#fff" stroke-width="1">β </text><text transform="translate(805.13 2383.94) scale(1.115 0.72)" x="0" y="0" font-size="58.74">=</text><text x="839.73" y="2390.3" font-size="58.74">1<tspan x="868.87">0</tspan><tspan x="896.71" font-size="60.19" dy="0.96" stroke="#fff" stroke-width="1.2">°</tspan></text><text x="728.81" y="2509.83" font-family="Liberation Sans, Arial, sans-serif" font-size="53.45" stroke="#fff" stroke-width="1">β </text><text transform="translate(771.13 2506.94) scale(1.115 0.72)" x="0" y="0" font-size="58.74">=</text><text x="803.59" y="2513.3" font-size="58.74">5<tspan x="835.71" font-size="60.19" dy="0.96" stroke="#fff" stroke-width="1.2">°</tspan></text><text x="352.81" y="2751.43" font-family="Liberation Sans, Arial, sans-serif" font-size="53.45" stroke="#fff" stroke-width="1">β </text><text transform="translate(395.13 2748.54) scale(1.115 0.72)" x="0" y="0" font-size="58.74">=</text><text x="427.62" y="2754.9" font-size="58.74">2<tspan x="459.69">5</tspan><tspan x="487.61" font-size="60.19" dy="0.96" stroke="#fff" stroke-width="1.2">°</tspan></text><text x="393.81" y="2856.63" font-family="Liberation Sans, Arial, sans-serif" font-size="53.45" stroke="#fff" stroke-width="1">β </text><text transform="translate(436.13 2853.74) scale(1.115 0.72)" x="0" y="0" font-size="58.74">=</text><text x="469.58" y="2860.1" font-size="58.74">3<tspan x="500.87">0</tspan><tspan x="528.71" font-size="60.19" dy="0.96" stroke="#fff" stroke-width="1.2">°</tspan></text><text x="438.81" y="2982.73" font-family="Liberation Sans, Arial, sans-serif" font-size="53.45" stroke="#fff" stroke-width="1">β </text><text transform="translate(481.13 2979.84) scale(1.115 0.72)" x="0" y="0" font-size="58.74">=</text><text x="513.18" y="2986.2" font-size="58.74">36.6<tspan x="617.71" font-size="60.19" dy="0.96" stroke="#fff" stroke-width="1.2">°</tspan></text></g>
<g font-family="Liberation Serif, serif" font-size="85" fill="#000"><text transform="translate(897.77 3562) scale(0.92 1)">(</text><text x="924.1" y="3562" font-weight="bold" font-size="90">b</text><text transform="translate(975.2 3562) scale(0.92 1)">)</text></g>
</svg></body></html>
